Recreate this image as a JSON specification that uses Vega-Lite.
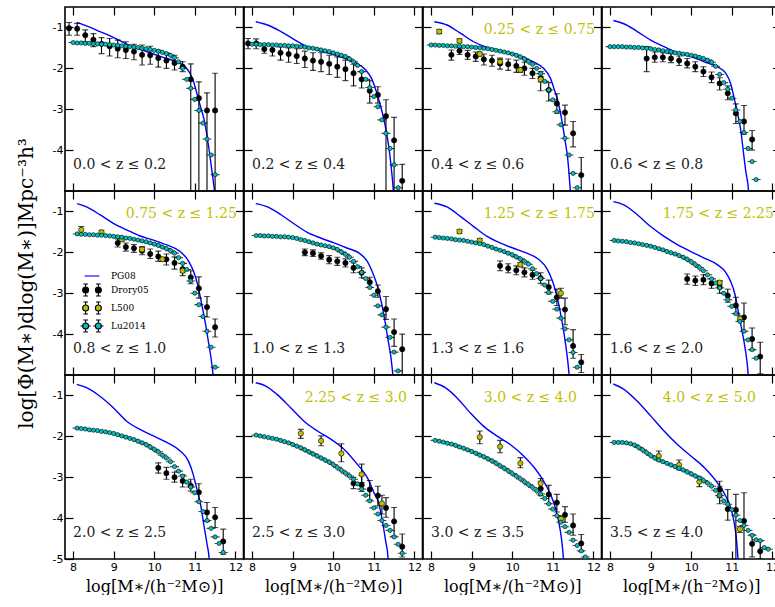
{
"$schema":"https://vega.github.io/schema/vega-lite/v6.json",
"padding":{"left":15,"top":5,"right":0,"bottom":0},
"config":{"font":"DejaVu Sans","view":{"stroke":"black","strokeWidth":1.6},
"axis":{"grid":false,"domain":false,"tickColor":"black","tickWidth":1.2,"tickSize":-8,"labelFont":"DejaVu Sans","labelFontSize":11,"labelColor":"black","labelPadding":10,"labelFlush":false,"labelOverlap":false,"labelBound":false,"titleFont":"DejaVu Serif","titleFontWeight":"normal","titleColor":"black","titleLimit":1000}},
"datasets":{
"pg":[
{"p":1,"x":8.09,"y":-0.875},{"p":1,"x":8.33,"y":-0.96},{"p":1,"x":8.66,"y":-1.1},{"p":1,"x":8.99,"y":-1.24},{"p":1,"x":9.32,"y":-1.41},{"p":1,"x":9.65,"y":-1.53},{"p":1,"x":9.98,"y":-1.65},{"p":1,"x":10.31,"y":-1.76},{"p":1,"x":10.55,"y":-1.84},{"p":1,"x":10.76,"y":-1.96},{"p":1,"x":10.88,"y":-2.12},{"p":1,"x":10.97,"y":-2.33},{"p":1,"x":11.05,"y":-2.61},{"p":1,"x":11.13,"y":-2.9},{"p":1,"x":11.23,"y":-3.26},{"p":1,"x":11.31,"y":-3.71},{"p":1,"x":11.37,"y":-4.12},{"p":1,"x":11.43,"y":-4.57},{"p":1,"x":11.5,"y":-5.1},
{"p":2,"x":8.09,"y":-0.86},{"p":2,"x":8.38,"y":-0.94},{"p":2,"x":8.71,"y":-1.1},{"p":2,"x":9.03,"y":-1.29},{"p":2,"x":9.32,"y":-1.45},{"p":2,"x":9.61,"y":-1.55},{"p":2,"x":10.02,"y":-1.67},{"p":2,"x":10.35,"y":-1.78},{"p":2,"x":10.59,"y":-1.88},{"p":2,"x":10.8,"y":-2.04},{"p":2,"x":10.94,"y":-2.24},{"p":2,"x":11.05,"y":-2.53},{"p":2,"x":11.15,"y":-2.86},{"p":2,"x":11.25,"y":-3.26},{"p":2,"x":11.33,"y":-3.67},{"p":2,"x":11.39,"y":-4.08},{"p":2,"x":11.46,"y":-4.73},{"p":2,"x":11.49,"y":-5.1},
{"p":3,"x":8.08,"y":-0.86},{"p":3,"x":8.39,"y":-0.94},{"p":3,"x":8.72,"y":-1.14},{"p":3,"x":9.05,"y":-1.35},{"p":3,"x":9.38,"y":-1.49},{"p":3,"x":9.79,"y":-1.59},{"p":3,"x":10.2,"y":-1.7},{"p":3,"x":10.52,"y":-1.84},{"p":3,"x":10.77,"y":-2.0},{"p":3,"x":10.94,"y":-2.24},{"p":3,"x":11.04,"y":-2.53},{"p":3,"x":11.14,"y":-2.86},{"p":3,"x":11.22,"y":-3.26},{"p":3,"x":11.3,"y":-3.75},{"p":3,"x":11.37,"y":-4.24},{"p":3,"x":11.43,"y":-4.97},{"p":3,"x":11.44,"y":-5.1},
{"p":4,"x":8.08,"y":-0.83},{"p":4,"x":8.34,"y":-0.91},{"p":4,"x":8.67,"y":-1.1},{"p":4,"x":9.0,"y":-1.31},{"p":4,"x":9.33,"y":-1.47},{"p":4,"x":9.66,"y":-1.62},{"p":4,"x":9.99,"y":-1.71},{"p":4,"x":10.32,"y":-1.84},{"p":4,"x":10.64,"y":-1.96},{"p":4,"x":10.85,"y":-2.12},{"p":4,"x":10.97,"y":-2.37},{"p":4,"x":11.05,"y":-2.69},{"p":4,"x":11.14,"y":-3.1},{"p":4,"x":11.22,"y":-3.51},{"p":4,"x":11.28,"y":-4.0},{"p":4,"x":11.34,"y":-4.49},{"p":4,"x":11.41,"y":-4.97},{"p":4,"x":11.42,"y":-5.1},
{"p":5,"x":8.1,"y":-0.81},{"p":5,"x":8.33,"y":-0.89},{"p":5,"x":8.66,"y":-1.08},{"p":5,"x":8.99,"y":-1.29},{"p":5,"x":9.32,"y":-1.45},{"p":5,"x":9.65,"y":-1.6},{"p":5,"x":9.98,"y":-1.7},{"p":5,"x":10.31,"y":-1.82},{"p":5,"x":10.64,"y":-1.98},{"p":5,"x":10.85,"y":-2.22},{"p":5,"x":10.97,"y":-2.47},{"p":5,"x":11.07,"y":-2.79},{"p":5,"x":11.18,"y":-3.32},{"p":5,"x":11.26,"y":-3.73},{"p":5,"x":11.34,"y":-4.22},{"p":5,"x":11.4,"y":-4.59},{"p":5,"x":11.45,"y":-5.0},{"p":5,"x":11.46,"y":-5.1},
{"p":6,"x":8.09,"y":-0.81},{"p":6,"x":8.38,"y":-0.89},{"p":6,"x":8.71,"y":-1.08},{"p":6,"x":9.03,"y":-1.3},{"p":6,"x":9.36,"y":-1.51},{"p":6,"x":9.69,"y":-1.65},{"p":6,"x":10.02,"y":-1.77},{"p":6,"x":10.35,"y":-1.9},{"p":6,"x":10.64,"y":-2.02},{"p":6,"x":10.84,"y":-2.22},{"p":6,"x":10.96,"y":-2.47},{"p":6,"x":11.09,"y":-2.83},{"p":6,"x":11.19,"y":-3.24},{"p":6,"x":11.27,"y":-3.65},{"p":6,"x":11.35,"y":-4.14},{"p":6,"x":11.42,"y":-4.55},{"p":6,"x":11.47,"y":-5.0},{"p":6,"x":11.48,"y":-5.1},
{"p":7,"x":8.08,"y":-0.8},{"p":7,"x":8.39,"y":-0.89},{"p":7,"x":8.72,"y":-1.12},{"p":7,"x":9.05,"y":-1.37},{"p":7,"x":9.38,"y":-1.61},{"p":7,"x":9.7,"y":-1.77},{"p":7,"x":10.03,"y":-1.9},{"p":7,"x":10.36,"y":-2.02},{"p":7,"x":10.65,"y":-2.17},{"p":7,"x":10.85,"y":-2.39},{"p":7,"x":10.98,"y":-2.67},{"p":7,"x":11.06,"y":-2.92},{"p":7,"x":11.14,"y":-3.24},{"p":7,"x":11.22,"y":-3.65},{"p":7,"x":11.3,"y":-4.14},{"p":7,"x":11.39,"y":-4.87},{"p":7,"x":11.41,"y":-5.1},
{"p":8,"x":8.08,"y":-0.76},{"p":8,"x":8.34,"y":-0.84},{"p":8,"x":8.67,"y":-1.08},{"p":8,"x":9.0,"y":-1.37},{"p":8,"x":9.33,"y":-1.61},{"p":8,"x":9.66,"y":-1.81},{"p":8,"x":9.99,"y":-1.98},{"p":8,"x":10.32,"y":-2.14},{"p":8,"x":10.64,"y":-2.3},{"p":8,"x":10.85,"y":-2.49},{"p":8,"x":10.97,"y":-2.71},{"p":8,"x":11.07,"y":-3.0},{"p":8,"x":11.15,"y":-3.4},{"p":8,"x":11.23,"y":-3.81},{"p":8,"x":11.32,"y":-4.3},{"p":8,"x":11.4,"y":-4.95},{"p":8,"x":11.41,"y":-5.1},
{"p":9,"x":8.09,"y":-0.73},{"p":9,"x":8.33,"y":-0.81},{"p":9,"x":8.66,"y":-1.02},{"p":9,"x":8.99,"y":-1.3},{"p":9,"x":9.32,"y":-1.63},{"p":9,"x":9.65,"y":-1.83},{"p":9,"x":9.98,"y":-1.99},{"p":9,"x":10.31,"y":-2.15},{"p":9,"x":10.64,"y":-2.36},{"p":9,"x":10.84,"y":-2.6},{"p":9,"x":10.96,"y":-2.93},{"p":9,"x":11.04,"y":-3.25},{"p":9,"x":11.14,"y":-3.66},{"p":9,"x":11.22,"y":-4.15},{"p":9,"x":11.3,"y":-4.63},{"p":9,"x":11.35,"y":-4.96},{"p":9,"x":11.36,"y":-5.1},
{"p":10,"x":8.09,"y":-0.69},{"p":10,"x":8.34,"y":-0.77},{"p":10,"x":8.62,"y":-0.98},{"p":10,"x":8.95,"y":-1.3},{"p":10,"x":9.28,"y":-1.63},{"p":10,"x":9.61,"y":-1.87},{"p":10,"x":9.94,"y":-2.07},{"p":10,"x":10.27,"y":-2.32},{"p":10,"x":10.59,"y":-2.68},{"p":10,"x":10.84,"y":-3.01},{"p":10,"x":11.0,"y":-3.37},{"p":10,"x":11.13,"y":-3.66},{"p":10,"x":11.21,"y":-4.07},{"p":10,"x":11.29,"y":-4.55},{"p":10,"x":11.35,"y":-4.96},{"p":10,"x":11.36,"y":-5.1},
{"p":11,"x":8.08,"y":-0.69},{"p":11,"x":8.35,"y":-0.81},{"p":11,"x":8.64,"y":-1.06},{"p":11,"x":8.96,"y":-1.42},{"p":11,"x":9.29,"y":-1.75},{"p":11,"x":9.62,"y":-1.99},{"p":11,"x":9.95,"y":-2.2},{"p":11,"x":10.28,"y":-2.48},{"p":11,"x":10.57,"y":-2.8},{"p":11,"x":10.77,"y":-3.09},{"p":11,"x":10.94,"y":-3.41},{"p":11,"x":11.06,"y":-3.74},{"p":11,"x":11.14,"y":-4.07},{"p":11,"x":11.22,"y":-4.55},{"p":11,"x":11.26,"y":-4.96},{"p":11,"x":11.27,"y":-5.1},
{"p":12,"x":8.08,"y":-0.72},{"p":12,"x":8.34,"y":-0.85},{"p":12,"x":8.67,"y":-1.14},{"p":12,"x":9.0,"y":-1.5},{"p":12,"x":9.33,"y":-1.87},{"p":12,"x":9.66,"y":-2.2},{"p":12,"x":9.99,"y":-2.48},{"p":12,"x":10.32,"y":-2.76},{"p":12,"x":10.64,"y":-3.13},{"p":12,"x":10.85,"y":-3.46},{"p":12,"x":10.97,"y":-3.74},{"p":12,"x":11.05,"y":-4.07},{"p":12,"x":11.11,"y":-4.47},{"p":12,"x":11.15,"y":-4.96},{"p":12,"x":11.16,"y":-5.1}
],
"eb":[
{"p":1,"s":"Drory05","x":7.9,"y":-1.02,"lo":-1.19,"hi":-0.88},{"p":1,"s":"Drory05","x":8.1,"y":-1.03,"lo":-1.19,"hi":-0.9},{"p":1,"s":"Drory05","x":8.3,"y":-1.19,"lo":-1.35,"hi":-1.06},{"p":1,"s":"Drory05","x":8.5,"y":-1.3,"lo":-1.47,"hi":-1.15},{"p":1,"s":"Drory05","x":8.7,"y":-1.4,"lo":-1.64,"hi":-1.25},{"p":1,"s":"Drory05","x":8.9,"y":-1.46,"lo":-1.7,"hi":-1.27},{"p":1,"s":"Drory05","x":9.1,"y":-1.52,"lo":-1.74,"hi":-1.31},{"p":1,"s":"Drory05","x":9.3,"y":-1.55,"lo":-1.76,"hi":-1.35},{"p":1,"s":"Drory05","x":9.5,"y":-1.59,"lo":-1.79,"hi":-1.41},{"p":1,"s":"Drory05","x":9.7,"y":-1.67,"lo":-1.92,"hi":-1.43},{"p":1,"s":"Drory05","x":9.9,"y":-1.68,"lo":-1.9,"hi":-1.46},{"p":1,"s":"Drory05","x":10.1,"y":-1.75,"lo":-1.97,"hi":-1.55},{"p":1,"s":"Drory05","x":10.3,"y":-1.81,"lo":-2.0,"hi":-1.62},{"p":1,"s":"Drory05","x":10.5,"y":-1.87,"lo":-2.04,"hi":-1.68},{"p":1,"s":"Drory05","x":10.7,"y":-1.96,"lo":-2.08,"hi":-1.84},{"p":1,"s":"Drory05","x":10.9,"y":-2.27,"lo":-6,"hi":-1.89},{"p":1,"s":"Drory05","x":11.1,"y":-2.73,"lo":-6,"hi":-2.33},{"p":1,"s":"Drory05","x":11.3,"y":-3.03,"lo":-6,"hi":-2.6},{"p":1,"s":"Drory05","x":11.5,"y":-3.03,"lo":-6,"hi":-2.12},
{"p":2,"s":"Drory05","x":7.9,"y":-1.39,"lo":-1.52,"hi":-1.27},{"p":2,"s":"Drory05","x":8.1,"y":-1.39,"lo":-1.52,"hi":-1.28},{"p":2,"s":"Drory05","x":8.3,"y":-1.53,"lo":-1.63,"hi":-1.43},{"p":2,"s":"Drory05","x":8.5,"y":-1.55,"lo":-1.7,"hi":-1.42},{"p":2,"s":"Drory05","x":8.7,"y":-1.62,"lo":-1.8,"hi":-1.48},{"p":2,"s":"Drory05","x":8.9,"y":-1.65,"lo":-1.85,"hi":-1.5},{"p":2,"s":"Drory05","x":9.1,"y":-1.7,"lo":-1.88,"hi":-1.52},{"p":2,"s":"Drory05","x":9.3,"y":-1.76,"lo":-1.98,"hi":-1.58},{"p":2,"s":"Drory05","x":9.5,"y":-1.81,"lo":-2.05,"hi":-1.62},{"p":2,"s":"Drory05","x":9.7,"y":-1.84,"lo":-2.08,"hi":-1.62},{"p":2,"s":"Drory05","x":9.9,"y":-1.89,"lo":-2.15,"hi":-1.68},{"p":2,"s":"Drory05","x":10.1,"y":-1.96,"lo":-2.22,"hi":-1.72},{"p":2,"s":"Drory05","x":10.3,"y":-2.02,"lo":-2.3,"hi":-1.8},{"p":2,"s":"Drory05","x":10.5,"y":-2.12,"lo":-2.43,"hi":-1.9},{"p":2,"s":"Drory05","x":10.7,"y":-2.27,"lo":-2.48,"hi":-2.08},{"p":2,"s":"Drory05","x":10.9,"y":-2.55,"lo":-2.85,"hi":-2.3},{"p":2,"s":"Drory05","x":11.1,"y":-2.65,"lo":-2.85,"hi":-2.45},{"p":2,"s":"Drory05","x":11.3,"y":-3.17,"lo":-6,"hi":-2.77},{"p":2,"s":"Drory05","x":11.5,"y":-3.76,"lo":-6,"hi":-3.2},{"p":2,"s":"Drory05","x":11.7,"y":-4.75,"lo":-6,"hi":-4.35},
{"p":3,"s":"Drory05","x":8.5,"y":-1.67,"lo":-1.8,"hi":-1.55},{"p":3,"s":"Drory05","x":8.7,"y":-1.57,"lo":-1.66,"hi":-1.48},{"p":3,"s":"Drory05","x":8.9,"y":-1.67,"lo":-1.78,"hi":-1.56},{"p":3,"s":"Drory05","x":9.1,"y":-1.71,"lo":-1.83,"hi":-1.6},{"p":3,"s":"Drory05","x":9.3,"y":-1.78,"lo":-1.92,"hi":-1.65},{"p":3,"s":"Drory05","x":9.5,"y":-1.81,"lo":-1.95,"hi":-1.68},{"p":3,"s":"Drory05","x":9.7,"y":-1.88,"lo":-2.02,"hi":-1.75},{"p":3,"s":"Drory05","x":9.9,"y":-1.9,"lo":-2.05,"hi":-1.77},{"p":3,"s":"Drory05","x":10.1,"y":-1.94,"lo":-2.1,"hi":-1.8},{"p":3,"s":"Drory05","x":10.3,"y":-2.0,"lo":-2.17,"hi":-1.85},{"p":3,"s":"Drory05","x":10.5,"y":-2.12,"lo":-2.25,"hi":-2.0},{"p":3,"s":"Drory05","x":10.7,"y":-2.24,"lo":-2.55,"hi":-2.08},{"p":3,"s":"Drory05","x":10.9,"y":-2.53,"lo":-2.8,"hi":-2.35},{"p":3,"s":"Drory05","x":11.1,"y":-2.86,"lo":-3.1,"hi":-2.62},{"p":3,"s":"Drory05","x":11.3,"y":-3.08,"lo":-3.39,"hi":-2.9},{"p":3,"s":"Drory05","x":11.5,"y":-3.59,"lo":-3.92,"hi":-3.3},{"p":3,"s":"Drory05","x":11.7,"y":-4.61,"lo":-5.03,"hi":-4.18},
{"p":3,"s":"L500","x":8.2,"y":-1.1,"lo":-1.15,"hi":-1.05},{"p":3,"s":"L500","x":8.7,"y":-1.33,"lo":-1.38,"hi":-1.28},{"p":3,"s":"L500","x":9.2,"y":-1.65,"lo":-1.7,"hi":-1.6},{"p":3,"s":"L500","x":9.7,"y":-1.84,"lo":-1.9,"hi":-1.78},{"p":3,"s":"L500","x":10.2,"y":-2.04,"lo":-2.1,"hi":-1.98},{"p":3,"s":"L500","x":10.7,"y":-2.27,"lo":-2.33,"hi":-2.21},
{"p":4,"s":"Drory05","x":8.9,"y":-1.76,"lo":-2.08,"hi":-1.47},{"p":4,"s":"Drory05","x":9.1,"y":-1.73,"lo":-1.85,"hi":-1.6},{"p":4,"s":"Drory05","x":9.3,"y":-1.73,"lo":-1.84,"hi":-1.62},{"p":4,"s":"Drory05","x":9.5,"y":-1.76,"lo":-1.86,"hi":-1.64},{"p":4,"s":"Drory05","x":9.7,"y":-1.81,"lo":-1.93,"hi":-1.7},{"p":4,"s":"Drory05","x":9.9,"y":-1.88,"lo":-1.99,"hi":-1.76},{"p":4,"s":"Drory05","x":10.1,"y":-1.96,"lo":-2.08,"hi":-1.84},{"p":4,"s":"Drory05","x":10.3,"y":-2.08,"lo":-2.2,"hi":-1.96},{"p":4,"s":"Drory05","x":10.5,"y":-2.22,"lo":-2.35,"hi":-2.09},{"p":4,"s":"Drory05","x":10.7,"y":-2.37,"lo":-2.53,"hi":-2.23},{"p":4,"s":"Drory05","x":10.9,"y":-2.61,"lo":-2.77,"hi":-2.43},{"p":4,"s":"Drory05","x":11.1,"y":-3.1,"lo":-3.35,"hi":-2.87},{"p":4,"s":"Drory05","x":11.3,"y":-3.3,"lo":-3.61,"hi":-2.91},{"p":4,"s":"Drory05","x":11.5,"y":-3.74,"lo":-4.0,"hi":-3.52},
{"p":5,"s":"Drory05","x":9.1,"y":-1.77,"lo":-1.87,"hi":-1.67},{"p":5,"s":"Drory05","x":9.3,"y":-1.87,"lo":-1.97,"hi":-1.77},{"p":5,"s":"Drory05","x":9.5,"y":-1.9,"lo":-2.0,"hi":-1.81},{"p":5,"s":"Drory05","x":9.7,"y":-1.96,"lo":-2.06,"hi":-1.86},{"p":5,"s":"Drory05","x":9.9,"y":-2.04,"lo":-2.15,"hi":-1.92},{"p":5,"s":"Drory05","x":10.1,"y":-2.1,"lo":-2.22,"hi":-1.97},{"p":5,"s":"Drory05","x":10.3,"y":-2.17,"lo":-2.31,"hi":-2.04},{"p":5,"s":"Drory05","x":10.5,"y":-2.26,"lo":-2.41,"hi":-2.11},{"p":5,"s":"Drory05","x":10.7,"y":-2.41,"lo":-2.57,"hi":-2.27},{"p":5,"s":"Drory05","x":10.9,"y":-2.61,"lo":-2.77,"hi":-2.45},{"p":5,"s":"Drory05","x":11.1,"y":-2.88,"lo":-3.12,"hi":-2.6},{"p":5,"s":"Drory05","x":11.3,"y":-3.34,"lo":-3.58,"hi":-3.08},{"p":5,"s":"Drory05","x":11.5,"y":-3.83,"lo":-4.07,"hi":-3.63},
{"p":5,"s":"L500","x":8.2,"y":-1.45,"lo":-1.55,"hi":-1.37},{"p":5,"s":"L500","x":8.7,"y":-1.51,"lo":-1.56,"hi":-1.46},{"p":5,"s":"L500","x":9.2,"y":-1.68,"lo":-1.73,"hi":-1.63},{"p":5,"s":"L500","x":9.7,"y":-1.93,"lo":-1.98,"hi":-1.88},{"p":5,"s":"L500","x":10.2,"y":-2.17,"lo":-2.22,"hi":-2.12},{"p":5,"s":"L500","x":10.7,"y":-2.45,"lo":-2.5,"hi":-2.4},
{"p":6,"s":"Drory05","x":9.3,"y":-2.0,"lo":-2.08,"hi":-1.92},{"p":6,"s":"Drory05","x":9.5,"y":-2.02,"lo":-2.1,"hi":-1.94},{"p":6,"s":"Drory05","x":9.7,"y":-2.09,"lo":-2.17,"hi":-2.01},{"p":6,"s":"Drory05","x":9.9,"y":-2.18,"lo":-2.28,"hi":-2.08},{"p":6,"s":"Drory05","x":10.1,"y":-2.22,"lo":-2.32,"hi":-2.12},{"p":6,"s":"Drory05","x":10.3,"y":-2.26,"lo":-2.36,"hi":-2.16},{"p":6,"s":"Drory05","x":10.5,"y":-2.38,"lo":-2.5,"hi":-2.26},{"p":6,"s":"Drory05","x":10.7,"y":-2.5,"lo":-2.62,"hi":-2.38},{"p":6,"s":"Drory05","x":10.9,"y":-2.73,"lo":-2.85,"hi":-2.61},{"p":6,"s":"Drory05","x":11.1,"y":-2.95,"lo":-3.1,"hi":-2.8},{"p":6,"s":"Drory05","x":11.3,"y":-3.39,"lo":-3.64,"hi":-3.08},{"p":6,"s":"Drory05","x":11.5,"y":-3.95,"lo":-4.3,"hi":-3.63},{"p":6,"s":"Drory05","x":11.7,"y":-4.37,"lo":-5.0,"hi":-4.0},
{"p":7,"s":"Drory05","x":9.7,"y":-2.33,"lo":-2.45,"hi":-2.21},{"p":7,"s":"Drory05","x":9.9,"y":-2.39,"lo":-2.5,"hi":-2.28},{"p":7,"s":"Drory05","x":10.1,"y":-2.44,"lo":-2.55,"hi":-2.33},{"p":7,"s":"Drory05","x":10.3,"y":-2.49,"lo":-2.6,"hi":-2.38},{"p":7,"s":"Drory05","x":10.5,"y":-2.55,"lo":-2.66,"hi":-2.44},{"p":7,"s":"Drory05","x":10.7,"y":-2.63,"lo":-2.76,"hi":-2.5},{"p":7,"s":"Drory05","x":10.9,"y":-2.85,"lo":-3.02,"hi":-2.68},{"p":7,"s":"Drory05","x":11.1,"y":-3.1,"lo":-3.3,"hi":-2.9},{"p":7,"s":"Drory05","x":11.3,"y":-3.4,"lo":-3.77,"hi":-3.12},{"p":7,"s":"Drory05","x":11.5,"y":-4.29,"lo":-4.59,"hi":-3.89},{"p":7,"s":"Drory05","x":11.7,"y":-4.69,"lo":-4.94,"hi":-4.5},
{"p":7,"s":"L500","x":8.7,"y":-1.49,"lo":-1.54,"hi":-1.44},{"p":7,"s":"L500","x":9.2,"y":-1.71,"lo":-1.76,"hi":-1.66},{"p":7,"s":"L500","x":10.2,"y":-2.3,"lo":-2.35,"hi":-2.25},{"p":7,"s":"L500","x":11.2,"y":-3.0,"lo":-3.12,"hi":-2.88},
{"p":8,"s":"Drory05","x":9.9,"y":-2.65,"lo":-2.78,"hi":-2.53},{"p":8,"s":"Drory05","x":10.1,"y":-2.69,"lo":-2.81,"hi":-2.58},{"p":8,"s":"Drory05","x":10.3,"y":-2.67,"lo":-2.79,"hi":-2.55},{"p":8,"s":"Drory05","x":10.5,"y":-2.76,"lo":-2.88,"hi":-2.64},{"p":8,"s":"Drory05","x":10.7,"y":-2.85,"lo":-3.0,"hi":-2.72},{"p":8,"s":"Drory05","x":10.9,"y":-3.06,"lo":-3.22,"hi":-2.9},{"p":8,"s":"Drory05","x":11.1,"y":-3.3,"lo":-3.5,"hi":-3.1},{"p":8,"s":"Drory05","x":11.3,"y":-3.59,"lo":-3.94,"hi":-3.24},{"p":8,"s":"Drory05","x":11.5,"y":-4.12,"lo":-4.39,"hi":-3.85},{"p":8,"s":"Drory05","x":11.7,"y":-4.55,"lo":-4.97,"hi":-4.2},
{"p":8,"s":"L500","x":10.7,"y":-2.74,"lo":-2.79,"hi":-2.69},{"p":8,"s":"L500","x":11.2,"y":-3.62,"lo":-3.68,"hi":-3.56},
{"p":9,"s":"Drory05","x":10.1,"y":-2.77,"lo":-2.9,"hi":-2.65},{"p":9,"s":"Drory05","x":10.3,"y":-2.9,"lo":-3.05,"hi":-2.76},{"p":9,"s":"Drory05","x":10.5,"y":-3.0,"lo":-3.12,"hi":-2.88},{"p":9,"s":"Drory05","x":10.7,"y":-3.09,"lo":-3.24,"hi":-2.94},{"p":9,"s":"Drory05","x":10.9,"y":-3.21,"lo":-3.34,"hi":-3.05},{"p":9,"s":"Drory05","x":11.1,"y":-3.37,"lo":-3.58,"hi":-3.16},{"p":9,"s":"Drory05","x":11.3,"y":-3.86,"lo":-4.08,"hi":-3.62},{"p":9,"s":"Drory05","x":11.5,"y":-3.98,"lo":-4.23,"hi":-3.74},{"p":9,"s":"Drory05","x":11.7,"y":-4.57,"lo":-4.88,"hi":-4.27},
{"p":10,"s":"Drory05","x":10.5,"y":-3.15,"lo":-3.28,"hi":-3.0},{"p":10,"s":"Drory05","x":10.7,"y":-3.19,"lo":-3.35,"hi":-2.95},{"p":10,"s":"Drory05","x":10.9,"y":-3.3,"lo":-3.55,"hi":-3.08},{"p":10,"s":"Drory05","x":11.1,"y":-3.45,"lo":-3.7,"hi":-3.22},{"p":10,"s":"Drory05","x":11.3,"y":-3.75,"lo":-3.98,"hi":-3.5},{"p":10,"s":"Drory05","x":11.5,"y":-4.08,"lo":-4.44,"hi":-3.74},{"p":10,"s":"Drory05","x":11.7,"y":-4.7,"lo":-4.95,"hi":-4.39},
{"p":10,"s":"L500","x":9.2,"y":-1.93,"lo":-2.05,"hi":-1.83},{"p":10,"s":"L500","x":9.7,"y":-2.11,"lo":-2.23,"hi":-1.99},{"p":10,"s":"L500","x":10.2,"y":-2.42,"lo":-2.62,"hi":-2.18},{"p":10,"s":"L500","x":10.7,"y":-2.93,"lo":-3.13,"hi":-2.68},{"p":10,"s":"L500","x":11.2,"y":-3.64,"lo":-3.9,"hi":-3.44},
{"p":11,"s":"Drory05","x":10.7,"y":-3.28,"lo":-3.45,"hi":-3.1},{"p":11,"s":"Drory05","x":10.9,"y":-3.42,"lo":-3.65,"hi":-3.2},{"p":11,"s":"Drory05","x":11.1,"y":-3.62,"lo":-3.85,"hi":-3.42},{"p":11,"s":"Drory05","x":11.3,"y":-3.92,"lo":-4.1,"hi":-3.72},{"p":11,"s":"Drory05","x":11.5,"y":-4.18,"lo":-4.42,"hi":-3.9},{"p":11,"s":"Drory05","x":11.7,"y":-4.62,"lo":-4.82,"hi":-4.4},
{"p":11,"s":"L500","x":9.2,"y":-2.02,"lo":-2.18,"hi":-1.87},{"p":11,"s":"L500","x":9.7,"y":-2.25,"lo":-2.4,"hi":-2.1},{"p":11,"s":"L500","x":10.2,"y":-2.66,"lo":-2.77,"hi":-2.52},{"p":11,"s":"L500","x":10.7,"y":-3.15,"lo":-3.27,"hi":-3.03},{"p":11,"s":"L500","x":11.2,"y":-4.02,"lo":-4.1,"hi":-3.95},
{"p":12,"s":"Drory05","x":10.7,"y":-3.3,"lo":-3.5,"hi":-3.1},{"p":12,"s":"Drory05","x":10.9,"y":-3.78,"lo":-4.05,"hi":-3.3},{"p":12,"s":"Drory05","x":11.1,"y":-3.8,"lo":-6,"hi":-3.42},{"p":12,"s":"Drory05","x":11.3,"y":-4.07,"lo":-6,"hi":-3.38},{"p":12,"s":"Drory05","x":11.5,"y":-4.63,"lo":-4.95,"hi":-4.4},{"p":12,"s":"Drory05","x":11.7,"y":-4.81,"lo":-5.0,"hi":-4.56},
{"p":12,"s":"L500","x":9.2,"y":-2.48,"lo":-2.6,"hi":-2.36},{"p":12,"s":"L500","x":9.7,"y":-2.7,"lo":-2.82,"hi":-2.58},{"p":12,"s":"L500","x":10.2,"y":-3.11,"lo":-3.23,"hi":-2.99},{"p":12,"s":"L500","x":10.7,"y":-3.43,"lo":-3.65,"hi":-3.22},{"p":12,"s":"L500","x":11.2,"y":-4.27,"lo":-4.35,"hi":-4.2}
],
"lu":[
{"p":1,"x":8.0,"y":-1.37},{"p":1,"x":8.1,"y":-1.38},{"p":1,"x":8.2,"y":-1.38},{"p":1,"x":8.3,"y":-1.39},{"p":1,"x":8.4,"y":-1.39},{"p":1,"x":8.5,"y":-1.4},{"p":1,"x":8.6,"y":-1.4},{"p":1,"x":8.7,"y":-1.41},{"p":1,"x":8.8,"y":-1.41},{"p":1,"x":8.9,"y":-1.42},{"p":1,"x":9.0,"y":-1.43},{"p":1,"x":9.1,"y":-1.44},{"p":1,"x":9.2,"y":-1.45},{"p":1,"x":9.3,"y":-1.46},{"p":1,"x":9.4,"y":-1.47},{"p":1,"x":9.5,"y":-1.48},{"p":1,"x":9.6,"y":-1.49},{"p":1,"x":9.7,"y":-1.51},{"p":1,"x":9.8,"y":-1.52},{"p":1,"x":9.9,"y":-1.54},{"p":1,"x":10.0,"y":-1.56},{"p":1,"x":10.1,"y":-1.58},{"p":1,"x":10.2,"y":-1.61},{"p":1,"x":10.3,"y":-1.64},{"p":1,"x":10.4,"y":-1.68},{"p":1,"x":10.5,"y":-1.74},{"p":1,"x":10.6,"y":-1.84},{"p":1,"x":10.7,"y":-2.0},{"p":1,"x":10.8,"y":-2.27},{"p":1,"x":10.9,"y":-2.49},{"p":1,"x":11.0,"y":-2.76},{"p":1,"x":11.1,"y":-3.03},{"p":1,"x":11.2,"y":-3.34},{"p":1,"x":11.3,"y":-3.73},{"p":1,"x":11.4,"y":-4.12},{"p":1,"x":11.5,"y":-4.6},
{"p":2,"x":8.0,"y":-1.41},{"p":2,"x":8.1,"y":-1.41},{"p":2,"x":8.2,"y":-1.42},{"p":2,"x":8.3,"y":-1.42},{"p":2,"x":8.4,"y":-1.42},{"p":2,"x":8.5,"y":-1.43},{"p":2,"x":8.6,"y":-1.43},{"p":2,"x":8.7,"y":-1.44},{"p":2,"x":8.8,"y":-1.44},{"p":2,"x":8.9,"y":-1.45},{"p":2,"x":9.0,"y":-1.45},{"p":2,"x":9.1,"y":-1.46},{"p":2,"x":9.2,"y":-1.47},{"p":2,"x":9.3,"y":-1.48},{"p":2,"x":9.4,"y":-1.5},{"p":2,"x":9.5,"y":-1.51},{"p":2,"x":9.6,"y":-1.53},{"p":2,"x":9.7,"y":-1.55},{"p":2,"x":9.8,"y":-1.57},{"p":2,"x":9.9,"y":-1.59},{"p":2,"x":10.0,"y":-1.62},{"p":2,"x":10.1,"y":-1.65},{"p":2,"x":10.2,"y":-1.68},{"p":2,"x":10.3,"y":-1.71},{"p":2,"x":10.4,"y":-1.77},{"p":2,"x":10.5,"y":-1.84},{"p":2,"x":10.6,"y":-1.93},{"p":2,"x":10.7,"y":-2.08},{"p":2,"x":10.8,"y":-2.27},{"p":2,"x":10.9,"y":-2.47},{"p":2,"x":11.0,"y":-2.69},{"p":2,"x":11.1,"y":-2.94},{"p":2,"x":11.2,"y":-3.26},{"p":2,"x":11.3,"y":-3.59},{"p":2,"x":11.4,"y":-3.96},{"p":2,"x":11.5,"y":-4.36},{"p":2,"x":11.6,"y":-4.92},
{"p":3,"x":8.0,"y":-1.43},{"p":3,"x":8.1,"y":-1.43},{"p":3,"x":8.2,"y":-1.44},{"p":3,"x":8.3,"y":-1.44},{"p":3,"x":8.4,"y":-1.45},{"p":3,"x":8.5,"y":-1.45},{"p":3,"x":8.6,"y":-1.46},{"p":3,"x":8.7,"y":-1.46},{"p":3,"x":8.8,"y":-1.47},{"p":3,"x":8.9,"y":-1.47},{"p":3,"x":9.0,"y":-1.48},{"p":3,"x":9.1,"y":-1.49},{"p":3,"x":9.2,"y":-1.5},{"p":3,"x":9.3,"y":-1.51},{"p":3,"x":9.4,"y":-1.52},{"p":3,"x":9.5,"y":-1.54},{"p":3,"x":9.6,"y":-1.56},{"p":3,"x":9.7,"y":-1.58},{"p":3,"x":9.8,"y":-1.6},{"p":3,"x":9.9,"y":-1.62},{"p":3,"x":10.0,"y":-1.65},{"p":3,"x":10.1,"y":-1.68},{"p":3,"x":10.2,"y":-1.72},{"p":3,"x":10.3,"y":-1.77},{"p":3,"x":10.4,"y":-1.83},{"p":3,"x":10.5,"y":-1.9},{"p":3,"x":10.6,"y":-2.0},{"p":3,"x":10.7,"y":-2.13},{"p":3,"x":10.8,"y":-2.32},{"p":3,"x":10.9,"y":-2.53},{"p":3,"x":11.0,"y":-2.77},{"p":3,"x":11.1,"y":-3.06},{"p":3,"x":11.2,"y":-3.38},{"p":3,"x":11.3,"y":-3.71},{"p":3,"x":11.4,"y":-4.12},{"p":3,"x":11.5,"y":-4.57},{"p":3,"x":11.6,"y":-4.92},
{"p":4,"x":8.0,"y":-1.47},{"p":4,"x":8.1,"y":-1.47},{"p":4,"x":8.2,"y":-1.47},{"p":4,"x":8.3,"y":-1.47},{"p":4,"x":8.4,"y":-1.48},{"p":4,"x":8.5,"y":-1.48},{"p":4,"x":8.6,"y":-1.49},{"p":4,"x":8.7,"y":-1.49},{"p":4,"x":8.8,"y":-1.5},{"p":4,"x":8.9,"y":-1.51},{"p":4,"x":9.0,"y":-1.52},{"p":4,"x":9.1,"y":-1.54},{"p":4,"x":9.2,"y":-1.55},{"p":4,"x":9.3,"y":-1.57},{"p":4,"x":9.4,"y":-1.59},{"p":4,"x":9.5,"y":-1.6},{"p":4,"x":9.6,"y":-1.62},{"p":4,"x":9.7,"y":-1.63},{"p":4,"x":9.8,"y":-1.65},{"p":4,"x":9.9,"y":-1.66},{"p":4,"x":10.0,"y":-1.68},{"p":4,"x":10.1,"y":-1.7},{"p":4,"x":10.2,"y":-1.73},{"p":4,"x":10.3,"y":-1.76},{"p":4,"x":10.4,"y":-1.8},{"p":4,"x":10.5,"y":-1.85},{"p":4,"x":10.6,"y":-1.95},{"p":4,"x":10.7,"y":-2.15},{"p":4,"x":10.8,"y":-2.35},{"p":4,"x":10.9,"y":-2.51},{"p":4,"x":11.0,"y":-2.73},{"p":4,"x":11.1,"y":-3.02},{"p":4,"x":11.2,"y":-3.3},{"p":4,"x":11.3,"y":-3.57},{"p":4,"x":11.4,"y":-3.96},{"p":4,"x":11.5,"y":-4.28},{"p":4,"x":11.6,"y":-4.72},
{"p":5,"x":8.1,"y":-1.55},{"p":5,"x":8.2,"y":-1.56},{"p":5,"x":8.3,"y":-1.56},{"p":5,"x":8.4,"y":-1.57},{"p":5,"x":8.5,"y":-1.57},{"p":5,"x":8.6,"y":-1.58},{"p":5,"x":8.7,"y":-1.58},{"p":5,"x":8.8,"y":-1.59},{"p":5,"x":8.9,"y":-1.6},{"p":5,"x":9.0,"y":-1.61},{"p":5,"x":9.1,"y":-1.62},{"p":5,"x":9.2,"y":-1.63},{"p":5,"x":9.3,"y":-1.65},{"p":5,"x":9.4,"y":-1.66},{"p":5,"x":9.5,"y":-1.68},{"p":5,"x":9.6,"y":-1.7},{"p":5,"x":9.7,"y":-1.72},{"p":5,"x":9.8,"y":-1.74},{"p":5,"x":9.9,"y":-1.77},{"p":5,"x":10.0,"y":-1.8},{"p":5,"x":10.1,"y":-1.83},{"p":5,"x":10.2,"y":-1.87},{"p":5,"x":10.3,"y":-1.91},{"p":5,"x":10.4,"y":-1.96},{"p":5,"x":10.5,"y":-2.02},{"p":5,"x":10.6,"y":-2.13},{"p":5,"x":10.7,"y":-2.27},{"p":5,"x":10.8,"y":-2.42},{"p":5,"x":10.9,"y":-2.7},{"p":5,"x":11.0,"y":-3.0},{"p":5,"x":11.1,"y":-3.28},{"p":5,"x":11.2,"y":-3.57},{"p":5,"x":11.3,"y":-3.93},{"p":5,"x":11.4,"y":-4.32},{"p":5,"x":11.5,"y":-4.81},
{"p":6,"x":8.1,"y":-1.59},{"p":6,"x":8.2,"y":-1.59},{"p":6,"x":8.3,"y":-1.6},{"p":6,"x":8.4,"y":-1.6},{"p":6,"x":8.5,"y":-1.61},{"p":6,"x":8.6,"y":-1.61},{"p":6,"x":8.7,"y":-1.62},{"p":6,"x":8.8,"y":-1.62},{"p":6,"x":8.9,"y":-1.63},{"p":6,"x":9.0,"y":-1.64},{"p":6,"x":9.1,"y":-1.66},{"p":6,"x":9.2,"y":-1.69},{"p":6,"x":9.3,"y":-1.71},{"p":6,"x":9.4,"y":-1.74},{"p":6,"x":9.5,"y":-1.77},{"p":6,"x":9.6,"y":-1.8},{"p":6,"x":9.7,"y":-1.82},{"p":6,"x":9.8,"y":-1.84},{"p":6,"x":9.9,"y":-1.86},{"p":6,"x":10.0,"y":-1.89},{"p":6,"x":10.1,"y":-1.93},{"p":6,"x":10.2,"y":-1.99},{"p":6,"x":10.3,"y":-2.05},{"p":6,"x":10.4,"y":-2.12},{"p":6,"x":10.5,"y":-2.22},{"p":6,"x":10.6,"y":-2.35},{"p":6,"x":10.7,"y":-2.49},{"p":6,"x":10.8,"y":-2.64},{"p":6,"x":10.9,"y":-2.86},{"p":6,"x":11.0,"y":-3.05},{"p":6,"x":11.1,"y":-3.31},{"p":6,"x":11.2,"y":-3.53},{"p":6,"x":11.3,"y":-3.83},{"p":6,"x":11.4,"y":-4.08},{"p":6,"x":11.5,"y":-4.44},{"p":6,"x":11.6,"y":-4.9},
{"p":7,"x":8.1,"y":-1.63},{"p":7,"x":8.2,"y":-1.64},{"p":7,"x":8.3,"y":-1.65},{"p":7,"x":8.4,"y":-1.66},{"p":7,"x":8.5,"y":-1.67},{"p":7,"x":8.6,"y":-1.69},{"p":7,"x":8.7,"y":-1.7},{"p":7,"x":8.8,"y":-1.71},{"p":7,"x":8.9,"y":-1.73},{"p":7,"x":9.0,"y":-1.75},{"p":7,"x":9.1,"y":-1.77},{"p":7,"x":9.2,"y":-1.79},{"p":7,"x":9.3,"y":-1.81},{"p":7,"x":9.4,"y":-1.85},{"p":7,"x":9.5,"y":-1.88},{"p":7,"x":9.6,"y":-1.92},{"p":7,"x":9.7,"y":-1.95},{"p":7,"x":9.8,"y":-1.98},{"p":7,"x":9.9,"y":-2.02},{"p":7,"x":10.0,"y":-2.06},{"p":7,"x":10.1,"y":-2.11},{"p":7,"x":10.2,"y":-2.16},{"p":7,"x":10.3,"y":-2.22},{"p":7,"x":10.4,"y":-2.29},{"p":7,"x":10.5,"y":-2.4},{"p":7,"x":10.6,"y":-2.52},{"p":7,"x":10.7,"y":-2.64},{"p":7,"x":10.8,"y":-2.8},{"p":7,"x":10.9,"y":-2.98},{"p":7,"x":11.0,"y":-3.2},{"p":7,"x":11.1,"y":-3.39},{"p":7,"x":11.2,"y":-3.61},{"p":7,"x":11.3,"y":-3.87},{"p":7,"x":11.4,"y":-4.14},{"p":7,"x":11.5,"y":-4.45},{"p":7,"x":11.6,"y":-4.81},
{"p":8,"x":8.1,"y":-1.71},{"p":8,"x":8.2,"y":-1.72},{"p":8,"x":8.3,"y":-1.73},{"p":8,"x":8.4,"y":-1.74},{"p":8,"x":8.5,"y":-1.76},{"p":8,"x":8.6,"y":-1.77},{"p":8,"x":8.7,"y":-1.79},{"p":8,"x":8.8,"y":-1.81},{"p":8,"x":8.9,"y":-1.83},{"p":8,"x":9.0,"y":-1.85},{"p":8,"x":9.1,"y":-1.88},{"p":8,"x":9.2,"y":-1.91},{"p":8,"x":9.3,"y":-1.94},{"p":8,"x":9.4,"y":-1.98},{"p":8,"x":9.5,"y":-2.01},{"p":8,"x":9.6,"y":-2.04},{"p":8,"x":9.7,"y":-2.08},{"p":8,"x":9.8,"y":-2.12},{"p":8,"x":9.9,"y":-2.17},{"p":8,"x":10.0,"y":-2.23},{"p":8,"x":10.1,"y":-2.3},{"p":8,"x":10.2,"y":-2.37},{"p":8,"x":10.3,"y":-2.45},{"p":8,"x":10.4,"y":-2.55},{"p":8,"x":10.5,"y":-2.65},{"p":8,"x":10.6,"y":-2.75},{"p":8,"x":10.7,"y":-2.87},{"p":8,"x":10.8,"y":-3.0},{"p":8,"x":10.9,"y":-3.16},{"p":8,"x":11.0,"y":-3.32},{"p":8,"x":11.1,"y":-3.5},{"p":8,"x":11.2,"y":-3.69},{"p":8,"x":11.3,"y":-3.93},{"p":8,"x":11.4,"y":-4.14},{"p":8,"x":11.5,"y":-4.38},{"p":8,"x":11.6,"y":-4.59},
{"p":9,"x":8.1,"y":-1.8},{"p":9,"x":8.2,"y":-1.81},{"p":9,"x":8.3,"y":-1.82},{"p":9,"x":8.4,"y":-1.84},{"p":9,"x":8.5,"y":-1.85},{"p":9,"x":8.6,"y":-1.86},{"p":9,"x":8.7,"y":-1.88},{"p":9,"x":8.8,"y":-1.89},{"p":9,"x":8.9,"y":-1.91},{"p":9,"x":9.0,"y":-1.93},{"p":9,"x":9.1,"y":-1.96},{"p":9,"x":9.2,"y":-1.99},{"p":9,"x":9.3,"y":-2.02},{"p":9,"x":9.4,"y":-2.05},{"p":9,"x":9.5,"y":-2.08},{"p":9,"x":9.6,"y":-2.12},{"p":9,"x":9.7,"y":-2.16},{"p":9,"x":9.8,"y":-2.2},{"p":9,"x":9.9,"y":-2.26},{"p":9,"x":10.0,"y":-2.32},{"p":9,"x":10.1,"y":-2.38},{"p":9,"x":10.2,"y":-2.46},{"p":9,"x":10.3,"y":-2.53},{"p":9,"x":10.4,"y":-2.62},{"p":9,"x":10.5,"y":-2.74},{"p":9,"x":10.6,"y":-2.85},{"p":9,"x":10.7,"y":-2.97},{"p":9,"x":10.8,"y":-3.12},{"p":9,"x":10.9,"y":-3.24},{"p":9,"x":11.0,"y":-3.38},{"p":9,"x":11.1,"y":-3.6},{"p":9,"x":11.2,"y":-3.84},{"p":9,"x":11.3,"y":-4.06},{"p":9,"x":11.4,"y":-4.25},{"p":9,"x":11.5,"y":-4.46},{"p":9,"x":11.6,"y":-4.62},{"p":9,"x":11.7,"y":-4.84},
{"p":10,"x":8.1,"y":-1.97},{"p":10,"x":8.2,"y":-1.99},{"p":10,"x":8.3,"y":-2.01},{"p":10,"x":8.4,"y":-2.03},{"p":10,"x":8.5,"y":-2.05},{"p":10,"x":8.6,"y":-2.07},{"p":10,"x":8.7,"y":-2.1},{"p":10,"x":8.8,"y":-2.13},{"p":10,"x":8.9,"y":-2.16},{"p":10,"x":9.0,"y":-2.2},{"p":10,"x":9.1,"y":-2.24},{"p":10,"x":9.2,"y":-2.28},{"p":10,"x":9.3,"y":-2.33},{"p":10,"x":9.4,"y":-2.38},{"p":10,"x":9.5,"y":-2.43},{"p":10,"x":9.6,"y":-2.48},{"p":10,"x":9.7,"y":-2.53},{"p":10,"x":9.8,"y":-2.58},{"p":10,"x":9.9,"y":-2.63},{"p":10,"x":10.0,"y":-2.69},{"p":10,"x":10.1,"y":-2.76},{"p":10,"x":10.2,"y":-2.83},{"p":10,"x":10.3,"y":-2.9},{"p":10,"x":10.4,"y":-2.97},{"p":10,"x":10.5,"y":-3.05},{"p":10,"x":10.6,"y":-3.16},{"p":10,"x":10.7,"y":-3.29},{"p":10,"x":10.8,"y":-3.44},{"p":10,"x":10.9,"y":-3.58},{"p":10,"x":11.0,"y":-3.75},{"p":10,"x":11.1,"y":-3.9},{"p":10,"x":11.2,"y":-4.06},{"p":10,"x":11.3,"y":-4.18},{"p":10,"x":11.4,"y":-4.3},{"p":10,"x":11.5,"y":-4.46},{"p":10,"x":11.6,"y":-4.64},{"p":10,"x":11.7,"y":-4.86},
{"p":11,"x":8.1,"y":-2.1},{"p":11,"x":8.2,"y":-2.12},{"p":11,"x":8.3,"y":-2.14},{"p":11,"x":8.4,"y":-2.17},{"p":11,"x":8.5,"y":-2.19},{"p":11,"x":8.6,"y":-2.22},{"p":11,"x":8.7,"y":-2.26},{"p":11,"x":8.8,"y":-2.29},{"p":11,"x":8.9,"y":-2.33},{"p":11,"x":9.0,"y":-2.37},{"p":11,"x":9.1,"y":-2.41},{"p":11,"x":9.2,"y":-2.46},{"p":11,"x":9.3,"y":-2.5},{"p":11,"x":9.4,"y":-2.55},{"p":11,"x":9.5,"y":-2.6},{"p":11,"x":9.6,"y":-2.66},{"p":11,"x":9.7,"y":-2.72},{"p":11,"x":9.8,"y":-2.78},{"p":11,"x":9.9,"y":-2.84},{"p":11,"x":10.0,"y":-2.91},{"p":11,"x":10.1,"y":-2.97},{"p":11,"x":10.2,"y":-3.04},{"p":11,"x":10.3,"y":-3.11},{"p":11,"x":10.4,"y":-3.18},{"p":11,"x":10.5,"y":-3.25},{"p":11,"x":10.6,"y":-3.33},{"p":11,"x":10.7,"y":-3.41},{"p":11,"x":10.8,"y":-3.52},{"p":11,"x":10.9,"y":-3.65},{"p":11,"x":11.0,"y":-3.78},{"p":11,"x":11.1,"y":-3.94},{"p":11,"x":11.2,"y":-4.1},{"p":11,"x":11.3,"y":-4.21},{"p":11,"x":11.4,"y":-4.35},{"p":11,"x":11.5,"y":-4.54},{"p":11,"x":11.6,"y":-4.67},{"p":11,"x":11.7,"y":-4.8},{"p":11,"x":11.8,"y":-4.95},
{"p":12,"x":8.1,"y":-2.15},{"p":12,"x":8.2,"y":-2.15},{"p":12,"x":8.3,"y":-2.15},{"p":12,"x":8.4,"y":-2.16},{"p":12,"x":8.5,"y":-2.18},{"p":12,"x":8.6,"y":-2.21},{"p":12,"x":8.7,"y":-2.27},{"p":12,"x":8.8,"y":-2.33},{"p":12,"x":8.9,"y":-2.4},{"p":12,"x":9.0,"y":-2.47},{"p":12,"x":9.1,"y":-2.53},{"p":12,"x":9.2,"y":-2.58},{"p":12,"x":9.3,"y":-2.62},{"p":12,"x":9.4,"y":-2.66},{"p":12,"x":9.5,"y":-2.7},{"p":12,"x":9.6,"y":-2.74},{"p":12,"x":9.7,"y":-2.78},{"p":12,"x":9.8,"y":-2.82},{"p":12,"x":9.9,"y":-2.87},{"p":12,"x":10.0,"y":-2.92},{"p":12,"x":10.1,"y":-2.97},{"p":12,"x":10.2,"y":-3.02},{"p":12,"x":10.3,"y":-3.08},{"p":12,"x":10.4,"y":-3.14},{"p":12,"x":10.5,"y":-3.22},{"p":12,"x":10.6,"y":-3.32},{"p":12,"x":10.7,"y":-3.45},{"p":12,"x":10.8,"y":-3.58},{"p":12,"x":10.9,"y":-3.66},{"p":12,"x":11.0,"y":-3.79},{"p":12,"x":11.1,"y":-3.93},{"p":12,"x":11.2,"y":-4.06},{"p":12,"x":11.3,"y":-4.18},{"p":12,"x":11.4,"y":-4.3},{"p":12,"x":11.5,"y":-4.42},{"p":12,"x":11.6,"y":-4.53},{"p":12,"x":11.7,"y":-4.55},{"p":12,"x":11.8,"y":-4.72},{"p":12,"x":11.9,"y":-4.76}
]
},
"columns":4,
"spacing":0,
"bounds":"flush",
"resolve":{"scale":{"fill":"independent","color":"independent","shape":"independent","stroke":"independent"},"legend":{"fill":"independent","color":"independent","shape":"independent","stroke":"independent"}},
"concat":[
{"width":178.5,"height":184,"resolve":{"axis":{"x":"independent","y":"independent"}},"layer":[
{"data":{"name":"pg"},"transform":[{"filter":"datum.p==1"}],"mark":{"type":"line","color":"#0000ff","strokeWidth":1.4,"clip":true,"interpolate":"monotone"},"encoding":{"x":{"field":"x","type":"quantitative","scale":{"domain":[7.8,12.2],"nice":false,"zero":false},"axis":{"orient":"bottom","values":[8,9,10,11,12],"labels":false,"title":null}},"y":{"field":"y","type":"quantitative","scale":{"domain":[-5,-0.5],"nice":false,"zero":false},"axis":{"orient":"left","values":[-1,-2,-3,-4],"labelExpr":"''+datum.value","title":null}}}},
{"data":{"name":"eb"},"transform":[{"filter":"datum.p==1"}],"mark":{"type":"rule","color":"black","strokeWidth":1.1,"clip":true},"encoding":{"x":{"field":"x","type":"quantitative","scale":{"domain":[7.8,12.2],"nice":false,"zero":false},"axis":{"orient":"top","values":[8,9,10,11,12],"labels":false,"title":null}},"y":{"field":"lo","type":"quantitative","scale":{"domain":[-5,-0.5],"nice":false,"zero":false},"axis":{"orient":"right","values":[-1,-2,-3,-4],"labels":false,"title":null}},"y2":{"field":"hi"}}},
{"data":{"name":"eb"},"transform":[{"filter":"datum.p==1"}],"mark":{"type":"tick","orient":"horizontal","size":6,"thickness":1.1,"color":"black","clip":true},"encoding":{"x":{"field":"x","type":"quantitative","scale":{"domain":[7.8,12.2],"nice":false,"zero":false},"axis":null},"y":{"field":"lo","type":"quantitative","scale":{"domain":[-5,-0.5],"nice":false,"zero":false},"axis":null}}},
{"data":{"name":"eb"},"transform":[{"filter":"datum.p==1"}],"mark":{"type":"tick","orient":"horizontal","size":6,"thickness":1.1,"color":"black","clip":true},"encoding":{"x":{"field":"x","type":"quantitative","scale":{"domain":[7.8,12.2],"nice":false,"zero":false},"axis":null},"y":{"field":"hi","type":"quantitative","scale":{"domain":[-5,-0.5],"nice":false,"zero":false},"axis":null}}},
{"data":{"name":"lu"},"transform":[{"filter":"datum.p==1"}],"mark":{"type":"tick","orient":"horizontal","size":9,"thickness":1.1,"color":"black","clip":true},"encoding":{"x":{"field":"x","type":"quantitative","scale":{"domain":[7.8,12.2],"nice":false,"zero":false},"axis":null},"y":{"field":"y","type":"quantitative","scale":{"domain":[-5,-0.5],"nice":false,"zero":false},"axis":null}}},
{"data":{"name":"eb"},"transform":[{"filter":"datum.p==1"}],"mark":{"type":"circle","size":28,"stroke":"black","strokeWidth":0.6,"opacity":1,"clip":true},"encoding":{"x":{"field":"x","type":"quantitative","scale":{"domain":[7.8,12.2],"nice":false,"zero":false},"axis":null},"y":{"field":"y","type":"quantitative","scale":{"domain":[-5,-0.5],"nice":false,"zero":false},"axis":null},"fill":{"field":"s","type":"nominal","scale":{"domain":["PG08","Drory05","L500","Lu2014"],"range":["#0000ff","#000000","#bfbf00","#00bfbf"]},"legend":null}}},
{"data":{"name":"lu"},"transform":[{"filter":"datum.p==1"}],"mark":{"type":"circle","size":18,"color":"#00bfbf","stroke":"black","strokeWidth":0.6,"opacity":1,"clip":true},"encoding":{"x":{"field":"x","type":"quantitative","scale":{"domain":[7.8,12.2],"nice":false,"zero":false},"axis":null},"y":{"field":"y","type":"quantitative","scale":{"domain":[-5,-0.5],"nice":false,"zero":false},"axis":null}}},
{"data":{"values":[{"t":"0.0 < z ≤ 0.2"}]},"mark":{"type":"text","align":"left","baseline":"middle","font":"DejaVu Serif","fontSize":14,"color":"#222222"},"encoding":{"x":{"datum":8.0,"type":"quantitative","scale":{"domain":[7.8,12.2],"nice":false,"zero":false},"axis":null},"y":{"datum":-4.36,"type":"quantitative","scale":{"domain":[-5,-0.5],"nice":false,"zero":false},"axis":null},"text":{"field":"t"}}}
]},
{"width":178.5,"height":184,"resolve":{"axis":{"x":"independent","y":"independent"}},"layer":[
{"data":{"name":"pg"},"transform":[{"filter":"datum.p==2"}],"mark":{"type":"line","color":"#0000ff","strokeWidth":1.4,"clip":true,"interpolate":"monotone"},"encoding":{"x":{"field":"x","type":"quantitative","scale":{"domain":[7.8,12.2],"nice":false,"zero":false},"axis":{"orient":"bottom","values":[8,9,10,11,12],"labels":false,"title":null}},"y":{"field":"y","type":"quantitative","scale":{"domain":[-5,-0.5],"nice":false,"zero":false},"axis":{"orient":"left","values":[-1,-2,-3,-4],"labels":false,"title":null}}}},
{"data":{"name":"eb"},"transform":[{"filter":"datum.p==2"}],"mark":{"type":"rule","color":"black","strokeWidth":1.1,"clip":true},"encoding":{"x":{"field":"x","type":"quantitative","scale":{"domain":[7.8,12.2],"nice":false,"zero":false},"axis":{"orient":"top","values":[8,9,10,11,12],"labels":false,"title":null}},"y":{"field":"lo","type":"quantitative","scale":{"domain":[-5,-0.5],"nice":false,"zero":false},"axis":{"orient":"right","values":[-1,-2,-3,-4],"labels":false,"title":null}},"y2":{"field":"hi"}}},
{"data":{"name":"eb"},"transform":[{"filter":"datum.p==2"}],"mark":{"type":"tick","orient":"horizontal","size":6,"thickness":1.1,"color":"black","clip":true},"encoding":{"x":{"field":"x","type":"quantitative","scale":{"domain":[7.8,12.2],"nice":false,"zero":false},"axis":null},"y":{"field":"lo","type":"quantitative","scale":{"domain":[-5,-0.5],"nice":false,"zero":false},"axis":null}}},
{"data":{"name":"eb"},"transform":[{"filter":"datum.p==2"}],"mark":{"type":"tick","orient":"horizontal","size":6,"thickness":1.1,"color":"black","clip":true},"encoding":{"x":{"field":"x","type":"quantitative","scale":{"domain":[7.8,12.2],"nice":false,"zero":false},"axis":null},"y":{"field":"hi","type":"quantitative","scale":{"domain":[-5,-0.5],"nice":false,"zero":false},"axis":null}}},
{"data":{"name":"lu"},"transform":[{"filter":"datum.p==2"}],"mark":{"type":"tick","orient":"horizontal","size":9,"thickness":1.1,"color":"black","clip":true},"encoding":{"x":{"field":"x","type":"quantitative","scale":{"domain":[7.8,12.2],"nice":false,"zero":false},"axis":null},"y":{"field":"y","type":"quantitative","scale":{"domain":[-5,-0.5],"nice":false,"zero":false},"axis":null}}},
{"data":{"name":"eb"},"transform":[{"filter":"datum.p==2"}],"mark":{"type":"circle","size":28,"stroke":"black","strokeWidth":0.6,"opacity":1,"clip":true},"encoding":{"x":{"field":"x","type":"quantitative","scale":{"domain":[7.8,12.2],"nice":false,"zero":false},"axis":null},"y":{"field":"y","type":"quantitative","scale":{"domain":[-5,-0.5],"nice":false,"zero":false},"axis":null},"fill":{"field":"s","type":"nominal","scale":{"domain":["PG08","Drory05","L500","Lu2014"],"range":["#0000ff","#000000","#bfbf00","#00bfbf"]},"legend":null}}},
{"data":{"name":"lu"},"transform":[{"filter":"datum.p==2"}],"mark":{"type":"circle","size":18,"color":"#00bfbf","stroke":"black","strokeWidth":0.6,"opacity":1,"clip":true},"encoding":{"x":{"field":"x","type":"quantitative","scale":{"domain":[7.8,12.2],"nice":false,"zero":false},"axis":null},"y":{"field":"y","type":"quantitative","scale":{"domain":[-5,-0.5],"nice":false,"zero":false},"axis":null}}},
{"data":{"values":[{"t":"0.2 < z ≤ 0.4"}]},"mark":{"type":"text","align":"left","baseline":"middle","font":"DejaVu Serif","fontSize":14,"color":"#222222"},"encoding":{"x":{"datum":8.0,"type":"quantitative","scale":{"domain":[7.8,12.2],"nice":false,"zero":false},"axis":null},"y":{"datum":-4.36,"type":"quantitative","scale":{"domain":[-5,-0.5],"nice":false,"zero":false},"axis":null},"text":{"field":"t"}}}
]},
{"width":178.5,"height":184,"resolve":{"axis":{"x":"independent","y":"independent"}},"layer":[
{"data":{"name":"pg"},"transform":[{"filter":"datum.p==3"}],"mark":{"type":"line","color":"#0000ff","strokeWidth":1.4,"clip":true,"interpolate":"monotone"},"encoding":{"x":{"field":"x","type":"quantitative","scale":{"domain":[7.8,12.2],"nice":false,"zero":false},"axis":{"orient":"bottom","values":[8,9,10,11,12],"labels":false,"title":null}},"y":{"field":"y","type":"quantitative","scale":{"domain":[-5,-0.5],"nice":false,"zero":false},"axis":{"orient":"left","values":[-1,-2,-3,-4],"labels":false,"title":null}}}},
{"data":{"name":"eb"},"transform":[{"filter":"datum.p==3"}],"mark":{"type":"rule","color":"black","strokeWidth":1.1,"clip":true},"encoding":{"x":{"field":"x","type":"quantitative","scale":{"domain":[7.8,12.2],"nice":false,"zero":false},"axis":{"orient":"top","values":[8,9,10,11,12],"labels":false,"title":null}},"y":{"field":"lo","type":"quantitative","scale":{"domain":[-5,-0.5],"nice":false,"zero":false},"axis":{"orient":"right","values":[-1,-2,-3,-4],"labels":false,"title":null}},"y2":{"field":"hi"}}},
{"data":{"name":"eb"},"transform":[{"filter":"datum.p==3"}],"mark":{"type":"tick","orient":"horizontal","size":6,"thickness":1.1,"color":"black","clip":true},"encoding":{"x":{"field":"x","type":"quantitative","scale":{"domain":[7.8,12.2],"nice":false,"zero":false},"axis":null},"y":{"field":"lo","type":"quantitative","scale":{"domain":[-5,-0.5],"nice":false,"zero":false},"axis":null}}},
{"data":{"name":"eb"},"transform":[{"filter":"datum.p==3"}],"mark":{"type":"tick","orient":"horizontal","size":6,"thickness":1.1,"color":"black","clip":true},"encoding":{"x":{"field":"x","type":"quantitative","scale":{"domain":[7.8,12.2],"nice":false,"zero":false},"axis":null},"y":{"field":"hi","type":"quantitative","scale":{"domain":[-5,-0.5],"nice":false,"zero":false},"axis":null}}},
{"data":{"name":"lu"},"transform":[{"filter":"datum.p==3"}],"mark":{"type":"tick","orient":"horizontal","size":9,"thickness":1.1,"color":"black","clip":true},"encoding":{"x":{"field":"x","type":"quantitative","scale":{"domain":[7.8,12.2],"nice":false,"zero":false},"axis":null},"y":{"field":"y","type":"quantitative","scale":{"domain":[-5,-0.5],"nice":false,"zero":false},"axis":null}}},
{"data":{"name":"eb"},"transform":[{"filter":"datum.p==3"}],"mark":{"type":"circle","size":28,"stroke":"black","strokeWidth":0.6,"opacity":1,"clip":true},"encoding":{"x":{"field":"x","type":"quantitative","scale":{"domain":[7.8,12.2],"nice":false,"zero":false},"axis":null},"y":{"field":"y","type":"quantitative","scale":{"domain":[-5,-0.5],"nice":false,"zero":false},"axis":null},"fill":{"field":"s","type":"nominal","scale":{"domain":["PG08","Drory05","L500","Lu2014"],"range":["#0000ff","#000000","#bfbf00","#00bfbf"]},"legend":null}}},
{"data":{"name":"lu"},"transform":[{"filter":"datum.p==3"}],"mark":{"type":"circle","size":18,"color":"#00bfbf","stroke":"black","strokeWidth":0.6,"opacity":1,"clip":true},"encoding":{"x":{"field":"x","type":"quantitative","scale":{"domain":[7.8,12.2],"nice":false,"zero":false},"axis":null},"y":{"field":"y","type":"quantitative","scale":{"domain":[-5,-0.5],"nice":false,"zero":false},"axis":null}}},
{"data":{"values":[{"t":"0.4 < z ≤ 0.6"}]},"mark":{"type":"text","align":"left","baseline":"middle","font":"DejaVu Serif","fontSize":14,"color":"#222222"},"encoding":{"x":{"datum":8.0,"type":"quantitative","scale":{"domain":[7.8,12.2],"nice":false,"zero":false},"axis":null},"y":{"datum":-4.36,"type":"quantitative","scale":{"domain":[-5,-0.5],"nice":false,"zero":false},"axis":null},"text":{"field":"t"}}},
{"data":{"values":[{"t":"0.25 < z ≤ 0.75"}]},"mark":{"type":"text","align":"left","baseline":"middle","font":"DejaVu Serif","fontSize":14,"color":"#bfbf00"},"encoding":{"x":{"datum":9.3,"type":"quantitative","scale":{"domain":[7.8,12.2],"nice":false,"zero":false},"axis":null},"y":{"datum":-1.07,"type":"quantitative","scale":{"domain":[-5,-0.5],"nice":false,"zero":false},"axis":null},"text":{"field":"t"}}}
]},
{"width":178.5,"height":184,"resolve":{"axis":{"x":"independent","y":"independent"}},"layer":[
{"data":{"name":"pg"},"transform":[{"filter":"datum.p==4"}],"mark":{"type":"line","color":"#0000ff","strokeWidth":1.4,"clip":true,"interpolate":"monotone"},"encoding":{"x":{"field":"x","type":"quantitative","scale":{"domain":[7.8,12.2],"nice":false,"zero":false},"axis":{"orient":"bottom","values":[8,9,10,11,12],"labels":false,"title":null}},"y":{"field":"y","type":"quantitative","scale":{"domain":[-5,-0.5],"nice":false,"zero":false},"axis":{"orient":"left","values":[-1,-2,-3,-4],"labels":false,"title":null}}}},
{"data":{"name":"eb"},"transform":[{"filter":"datum.p==4"}],"mark":{"type":"rule","color":"black","strokeWidth":1.1,"clip":true},"encoding":{"x":{"field":"x","type":"quantitative","scale":{"domain":[7.8,12.2],"nice":false,"zero":false},"axis":{"orient":"top","values":[8,9,10,11,12],"labels":false,"title":null}},"y":{"field":"lo","type":"quantitative","scale":{"domain":[-5,-0.5],"nice":false,"zero":false},"axis":{"orient":"right","values":[-1,-2,-3,-4],"labels":false,"title":null}},"y2":{"field":"hi"}}},
{"data":{"name":"eb"},"transform":[{"filter":"datum.p==4"}],"mark":{"type":"tick","orient":"horizontal","size":6,"thickness":1.1,"color":"black","clip":true},"encoding":{"x":{"field":"x","type":"quantitative","scale":{"domain":[7.8,12.2],"nice":false,"zero":false},"axis":null},"y":{"field":"lo","type":"quantitative","scale":{"domain":[-5,-0.5],"nice":false,"zero":false},"axis":null}}},
{"data":{"name":"eb"},"transform":[{"filter":"datum.p==4"}],"mark":{"type":"tick","orient":"horizontal","size":6,"thickness":1.1,"color":"black","clip":true},"encoding":{"x":{"field":"x","type":"quantitative","scale":{"domain":[7.8,12.2],"nice":false,"zero":false},"axis":null},"y":{"field":"hi","type":"quantitative","scale":{"domain":[-5,-0.5],"nice":false,"zero":false},"axis":null}}},
{"data":{"name":"lu"},"transform":[{"filter":"datum.p==4"}],"mark":{"type":"tick","orient":"horizontal","size":9,"thickness":1.1,"color":"black","clip":true},"encoding":{"x":{"field":"x","type":"quantitative","scale":{"domain":[7.8,12.2],"nice":false,"zero":false},"axis":null},"y":{"field":"y","type":"quantitative","scale":{"domain":[-5,-0.5],"nice":false,"zero":false},"axis":null}}},
{"data":{"name":"eb"},"transform":[{"filter":"datum.p==4"}],"mark":{"type":"circle","size":28,"stroke":"black","strokeWidth":0.6,"opacity":1,"clip":true},"encoding":{"x":{"field":"x","type":"quantitative","scale":{"domain":[7.8,12.2],"nice":false,"zero":false},"axis":null},"y":{"field":"y","type":"quantitative","scale":{"domain":[-5,-0.5],"nice":false,"zero":false},"axis":null},"fill":{"field":"s","type":"nominal","scale":{"domain":["PG08","Drory05","L500","Lu2014"],"range":["#0000ff","#000000","#bfbf00","#00bfbf"]},"legend":null}}},
{"data":{"name":"lu"},"transform":[{"filter":"datum.p==4"}],"mark":{"type":"circle","size":18,"color":"#00bfbf","stroke":"black","strokeWidth":0.6,"opacity":1,"clip":true},"encoding":{"x":{"field":"x","type":"quantitative","scale":{"domain":[7.8,12.2],"nice":false,"zero":false},"axis":null},"y":{"field":"y","type":"quantitative","scale":{"domain":[-5,-0.5],"nice":false,"zero":false},"axis":null}}},
{"data":{"values":[{"t":"0.6 < z ≤ 0.8"}]},"mark":{"type":"text","align":"left","baseline":"middle","font":"DejaVu Serif","fontSize":14,"color":"#222222"},"encoding":{"x":{"datum":8.0,"type":"quantitative","scale":{"domain":[7.8,12.2],"nice":false,"zero":false},"axis":null},"y":{"datum":-4.36,"type":"quantitative","scale":{"domain":[-5,-0.5],"nice":false,"zero":false},"axis":null},"text":{"field":"t"}}}
]},
{"width":178.5,"height":184,"resolve":{"axis":{"x":"independent","y":"independent"}},"layer":[
{"data":{"name":"pg"},"transform":[{"filter":"datum.p==5"}],"mark":{"type":"line","color":"#0000ff","strokeWidth":1.4,"clip":true,"interpolate":"monotone"},"encoding":{"x":{"field":"x","type":"quantitative","scale":{"domain":[7.8,12.2],"nice":false,"zero":false},"axis":{"orient":"bottom","values":[8,9,10,11,12],"labels":false,"title":null}},"y":{"field":"y","type":"quantitative","scale":{"domain":[-5,-0.5],"nice":false,"zero":false},"axis":{"orient":"left","values":[-1,-2,-3,-4],"labelExpr":"''+datum.value","title":"log[Φ(M∗)dlog(M∗)]Mpc⁻³h³","titleFontSize":20,"titlePadding":16}}}},
{"data":{"name":"eb"},"transform":[{"filter":"datum.p==5"}],"mark":{"type":"rule","color":"black","strokeWidth":1.1,"clip":true},"encoding":{"x":{"field":"x","type":"quantitative","scale":{"domain":[7.8,12.2],"nice":false,"zero":false},"axis":{"orient":"top","values":[8,9,10,11,12],"labels":false,"title":null}},"y":{"field":"lo","type":"quantitative","scale":{"domain":[-5,-0.5],"nice":false,"zero":false},"axis":{"orient":"right","values":[-1,-2,-3,-4],"labels":false,"title":null}},"y2":{"field":"hi"}}},
{"data":{"name":"eb"},"transform":[{"filter":"datum.p==5"}],"mark":{"type":"tick","orient":"horizontal","size":6,"thickness":1.1,"color":"black","clip":true},"encoding":{"x":{"field":"x","type":"quantitative","scale":{"domain":[7.8,12.2],"nice":false,"zero":false},"axis":null},"y":{"field":"lo","type":"quantitative","scale":{"domain":[-5,-0.5],"nice":false,"zero":false},"axis":null}}},
{"data":{"name":"eb"},"transform":[{"filter":"datum.p==5"}],"mark":{"type":"tick","orient":"horizontal","size":6,"thickness":1.1,"color":"black","clip":true},"encoding":{"x":{"field":"x","type":"quantitative","scale":{"domain":[7.8,12.2],"nice":false,"zero":false},"axis":null},"y":{"field":"hi","type":"quantitative","scale":{"domain":[-5,-0.5],"nice":false,"zero":false},"axis":null}}},
{"data":{"name":"lu"},"transform":[{"filter":"datum.p==5"}],"mark":{"type":"tick","orient":"horizontal","size":9,"thickness":1.1,"color":"black","clip":true},"encoding":{"x":{"field":"x","type":"quantitative","scale":{"domain":[7.8,12.2],"nice":false,"zero":false},"axis":null},"y":{"field":"y","type":"quantitative","scale":{"domain":[-5,-0.5],"nice":false,"zero":false},"axis":null}}},
{"data":{"name":"eb"},"transform":[{"filter":"datum.p==5"}],"mark":{"type":"circle","size":28,"stroke":"black","strokeWidth":0.6,"opacity":1,"clip":true},"encoding":{"x":{"field":"x","type":"quantitative","scale":{"domain":[7.8,12.2],"nice":false,"zero":false},"axis":null},"y":{"field":"y","type":"quantitative","scale":{"domain":[-5,-0.5],"nice":false,"zero":false},"axis":null},"color":{"field":"s","type":"nominal","scale":{"domain":["Drory05","L500"],"range":["#000000","#bfbf00"]},"legend":null}}},
{"data":{"name":"lu"},"transform":[{"filter":"datum.p==5"}],"mark":{"type":"circle","size":18,"color":"#00bfbf","stroke":"black","strokeWidth":0.6,"opacity":1,"clip":true},"encoding":{"x":{"field":"x","type":"quantitative","scale":{"domain":[7.8,12.2],"nice":false,"zero":false},"axis":null},"y":{"field":"y","type":"quantitative","scale":{"domain":[-5,-0.5],"nice":false,"zero":false},"axis":null}}},
{"data":{"name":"eb"},"transform":[{"filter":"false"}],"mark":{"type":"point","filled":true,"opacity":1},"encoding":{"x":{"field":"x","type":"quantitative","scale":{"domain":[7.8,12.2],"nice":false,"zero":false},"axis":null},"y":{"field":"y","type":"quantitative","scale":{"domain":[-5,-0.5],"nice":false,"zero":false},"axis":null},
"fill":{"field":"s","type":"nominal","scale":{"domain":["PG08","Drory05","L500","Lu2014"],"range":["transparent","#000000","#bfbf00","#00bfbf"]},"legend":{"orient":"none","legendX":22,"legendY":80,"title":null,"padding":0,"rowPadding":0,"labelFont":"DejaVu Serif","labelFontSize":9,"labelColor":"black","labelOffset":14,"symbolSize":72,"symbolStrokeWidth":1.1,"symbolOpacity":1}},
"shape":{"field":"s","type":"nominal","scale":{"domain":["PG08","Drory05","L500","Lu2014"],"range":["M-1.76,0H1.76","M-2.2,0A0.7,0.7,0,1,0,-0.8,0A0.7,0.7,0,1,0,-2.2,0ZM0.8,0A0.7,0.7,0,1,0,2.2,0A0.7,0.7,0,1,0,0.8,0ZM-1.5,-0.7V-1.4M-1.5,0.7V1.4M-2.05,-1.4H-0.95M-2.05,1.4H-0.95M1.5,-0.7V-1.4M1.5,0.7V1.4M0.95,-1.4H2.05M0.95,1.4H2.05","M-2.2,0A0.7,0.7,0,1,0,-0.8,0A0.7,0.7,0,1,0,-2.2,0ZM0.8,0A0.7,0.7,0,1,0,2.2,0A0.7,0.7,0,1,0,0.8,0ZM-1.5,-0.7V-1.4M-1.5,0.7V1.4M-2.05,-1.4H-0.95M-2.05,1.4H-0.95M1.5,-0.7V-1.4M1.5,0.7V1.4M0.95,-1.4H2.05M0.95,1.4H2.05","M-2.2,0A0.7,0.7,0,1,0,-0.8,0A0.7,0.7,0,1,0,-2.2,0ZM0.8,0A0.7,0.7,0,1,0,2.2,0A0.7,0.7,0,1,0,0.8,0ZM-1.5,-0.7V-1.4M-1.5,0.7V1.4M-2.05,-1.4H-0.95M-2.05,1.4H-0.95M1.5,-0.7V-1.4M1.5,0.7V1.4M0.95,-1.4H2.05M0.95,1.4H2.05M-2.2,0H-2.7M-0.8,0H-0.3M0.8,0H0.3M2.2,0H2.7"]},"legend":{"orient":"none","legendX":22,"legendY":80,"title":null,"padding":0,"rowPadding":0,"labelFont":"DejaVu Serif","labelFontSize":9,"labelColor":"black","labelOffset":14,"symbolSize":72,"symbolStrokeWidth":1.1,"symbolOpacity":1}},
"stroke":{"field":"s","type":"nominal","scale":{"domain":["PG08","Drory05","L500","Lu2014"],"range":["#0000ff","#000000","#000000","#000000"]},"legend":{"orient":"none","legendX":22,"legendY":80,"title":null,"padding":0,"rowPadding":0,"labelFont":"DejaVu Serif","labelFontSize":9,"labelColor":"black","labelOffset":14,"symbolSize":72,"symbolStrokeWidth":1.1,"symbolOpacity":1}}}},
{"data":{"values":[{"t":"0.8 < z ≤ 1.0"}]},"mark":{"type":"text","align":"left","baseline":"middle","font":"DejaVu Serif","fontSize":14,"color":"#222222"},"encoding":{"x":{"datum":8.0,"type":"quantitative","scale":{"domain":[7.8,12.2],"nice":false,"zero":false},"axis":null},"y":{"datum":-4.36,"type":"quantitative","scale":{"domain":[-5,-0.5],"nice":false,"zero":false},"axis":null},"text":{"field":"t"}}},
{"data":{"values":[{"t":"0.75 < z ≤ 1.25"}]},"mark":{"type":"text","align":"left","baseline":"middle","font":"DejaVu Serif","fontSize":14,"color":"#bfbf00"},"encoding":{"x":{"datum":9.3,"type":"quantitative","scale":{"domain":[7.8,12.2],"nice":false,"zero":false},"axis":null},"y":{"datum":-1.07,"type":"quantitative","scale":{"domain":[-5,-0.5],"nice":false,"zero":false},"axis":null},"text":{"field":"t"}}}
]},
{"width":178.5,"height":184,"resolve":{"axis":{"x":"independent","y":"independent"}},"layer":[
{"data":{"name":"pg"},"transform":[{"filter":"datum.p==6"}],"mark":{"type":"line","color":"#0000ff","strokeWidth":1.4,"clip":true,"interpolate":"monotone"},"encoding":{"x":{"field":"x","type":"quantitative","scale":{"domain":[7.8,12.2],"nice":false,"zero":false},"axis":{"orient":"bottom","values":[8,9,10,11,12],"labels":false,"title":null}},"y":{"field":"y","type":"quantitative","scale":{"domain":[-5,-0.5],"nice":false,"zero":false},"axis":{"orient":"left","values":[-1,-2,-3,-4],"labels":false,"title":null}}}},
{"data":{"name":"eb"},"transform":[{"filter":"datum.p==6"}],"mark":{"type":"rule","color":"black","strokeWidth":1.1,"clip":true},"encoding":{"x":{"field":"x","type":"quantitative","scale":{"domain":[7.8,12.2],"nice":false,"zero":false},"axis":{"orient":"top","values":[8,9,10,11,12],"labels":false,"title":null}},"y":{"field":"lo","type":"quantitative","scale":{"domain":[-5,-0.5],"nice":false,"zero":false},"axis":{"orient":"right","values":[-1,-2,-3,-4],"labels":false,"title":null}},"y2":{"field":"hi"}}},
{"data":{"name":"eb"},"transform":[{"filter":"datum.p==6"}],"mark":{"type":"tick","orient":"horizontal","size":6,"thickness":1.1,"color":"black","clip":true},"encoding":{"x":{"field":"x","type":"quantitative","scale":{"domain":[7.8,12.2],"nice":false,"zero":false},"axis":null},"y":{"field":"lo","type":"quantitative","scale":{"domain":[-5,-0.5],"nice":false,"zero":false},"axis":null}}},
{"data":{"name":"eb"},"transform":[{"filter":"datum.p==6"}],"mark":{"type":"tick","orient":"horizontal","size":6,"thickness":1.1,"color":"black","clip":true},"encoding":{"x":{"field":"x","type":"quantitative","scale":{"domain":[7.8,12.2],"nice":false,"zero":false},"axis":null},"y":{"field":"hi","type":"quantitative","scale":{"domain":[-5,-0.5],"nice":false,"zero":false},"axis":null}}},
{"data":{"name":"lu"},"transform":[{"filter":"datum.p==6"}],"mark":{"type":"tick","orient":"horizontal","size":9,"thickness":1.1,"color":"black","clip":true},"encoding":{"x":{"field":"x","type":"quantitative","scale":{"domain":[7.8,12.2],"nice":false,"zero":false},"axis":null},"y":{"field":"y","type":"quantitative","scale":{"domain":[-5,-0.5],"nice":false,"zero":false},"axis":null}}},
{"data":{"name":"eb"},"transform":[{"filter":"datum.p==6"}],"mark":{"type":"circle","size":28,"stroke":"black","strokeWidth":0.6,"opacity":1,"clip":true},"encoding":{"x":{"field":"x","type":"quantitative","scale":{"domain":[7.8,12.2],"nice":false,"zero":false},"axis":null},"y":{"field":"y","type":"quantitative","scale":{"domain":[-5,-0.5],"nice":false,"zero":false},"axis":null},"fill":{"field":"s","type":"nominal","scale":{"domain":["PG08","Drory05","L500","Lu2014"],"range":["#0000ff","#000000","#bfbf00","#00bfbf"]},"legend":null}}},
{"data":{"name":"lu"},"transform":[{"filter":"datum.p==6"}],"mark":{"type":"circle","size":18,"color":"#00bfbf","stroke":"black","strokeWidth":0.6,"opacity":1,"clip":true},"encoding":{"x":{"field":"x","type":"quantitative","scale":{"domain":[7.8,12.2],"nice":false,"zero":false},"axis":null},"y":{"field":"y","type":"quantitative","scale":{"domain":[-5,-0.5],"nice":false,"zero":false},"axis":null}}},
{"data":{"values":[{"t":"1.0 < z ≤ 1.3"}]},"mark":{"type":"text","align":"left","baseline":"middle","font":"DejaVu Serif","fontSize":14,"color":"#222222"},"encoding":{"x":{"datum":8.0,"type":"quantitative","scale":{"domain":[7.8,12.2],"nice":false,"zero":false},"axis":null},"y":{"datum":-4.36,"type":"quantitative","scale":{"domain":[-5,-0.5],"nice":false,"zero":false},"axis":null},"text":{"field":"t"}}}
]},
{"width":178.5,"height":184,"resolve":{"axis":{"x":"independent","y":"independent"}},"layer":[
{"data":{"name":"pg"},"transform":[{"filter":"datum.p==7"}],"mark":{"type":"line","color":"#0000ff","strokeWidth":1.4,"clip":true,"interpolate":"monotone"},"encoding":{"x":{"field":"x","type":"quantitative","scale":{"domain":[7.8,12.2],"nice":false,"zero":false},"axis":{"orient":"bottom","values":[8,9,10,11,12],"labels":false,"title":null}},"y":{"field":"y","type":"quantitative","scale":{"domain":[-5,-0.5],"nice":false,"zero":false},"axis":{"orient":"left","values":[-1,-2,-3,-4],"labels":false,"title":null}}}},
{"data":{"name":"eb"},"transform":[{"filter":"datum.p==7"}],"mark":{"type":"rule","color":"black","strokeWidth":1.1,"clip":true},"encoding":{"x":{"field":"x","type":"quantitative","scale":{"domain":[7.8,12.2],"nice":false,"zero":false},"axis":{"orient":"top","values":[8,9,10,11,12],"labels":false,"title":null}},"y":{"field":"lo","type":"quantitative","scale":{"domain":[-5,-0.5],"nice":false,"zero":false},"axis":{"orient":"right","values":[-1,-2,-3,-4],"labels":false,"title":null}},"y2":{"field":"hi"}}},
{"data":{"name":"eb"},"transform":[{"filter":"datum.p==7"}],"mark":{"type":"tick","orient":"horizontal","size":6,"thickness":1.1,"color":"black","clip":true},"encoding":{"x":{"field":"x","type":"quantitative","scale":{"domain":[7.8,12.2],"nice":false,"zero":false},"axis":null},"y":{"field":"lo","type":"quantitative","scale":{"domain":[-5,-0.5],"nice":false,"zero":false},"axis":null}}},
{"data":{"name":"eb"},"transform":[{"filter":"datum.p==7"}],"mark":{"type":"tick","orient":"horizontal","size":6,"thickness":1.1,"color":"black","clip":true},"encoding":{"x":{"field":"x","type":"quantitative","scale":{"domain":[7.8,12.2],"nice":false,"zero":false},"axis":null},"y":{"field":"hi","type":"quantitative","scale":{"domain":[-5,-0.5],"nice":false,"zero":false},"axis":null}}},
{"data":{"name":"lu"},"transform":[{"filter":"datum.p==7"}],"mark":{"type":"tick","orient":"horizontal","size":9,"thickness":1.1,"color":"black","clip":true},"encoding":{"x":{"field":"x","type":"quantitative","scale":{"domain":[7.8,12.2],"nice":false,"zero":false},"axis":null},"y":{"field":"y","type":"quantitative","scale":{"domain":[-5,-0.5],"nice":false,"zero":false},"axis":null}}},
{"data":{"name":"eb"},"transform":[{"filter":"datum.p==7"}],"mark":{"type":"circle","size":28,"stroke":"black","strokeWidth":0.6,"opacity":1,"clip":true},"encoding":{"x":{"field":"x","type":"quantitative","scale":{"domain":[7.8,12.2],"nice":false,"zero":false},"axis":null},"y":{"field":"y","type":"quantitative","scale":{"domain":[-5,-0.5],"nice":false,"zero":false},"axis":null},"fill":{"field":"s","type":"nominal","scale":{"domain":["PG08","Drory05","L500","Lu2014"],"range":["#0000ff","#000000","#bfbf00","#00bfbf"]},"legend":null}}},
{"data":{"name":"lu"},"transform":[{"filter":"datum.p==7"}],"mark":{"type":"circle","size":18,"color":"#00bfbf","stroke":"black","strokeWidth":0.6,"opacity":1,"clip":true},"encoding":{"x":{"field":"x","type":"quantitative","scale":{"domain":[7.8,12.2],"nice":false,"zero":false},"axis":null},"y":{"field":"y","type":"quantitative","scale":{"domain":[-5,-0.5],"nice":false,"zero":false},"axis":null}}},
{"data":{"values":[{"t":"1.3 < z ≤ 1.6"}]},"mark":{"type":"text","align":"left","baseline":"middle","font":"DejaVu Serif","fontSize":14,"color":"#222222"},"encoding":{"x":{"datum":8.0,"type":"quantitative","scale":{"domain":[7.8,12.2],"nice":false,"zero":false},"axis":null},"y":{"datum":-4.36,"type":"quantitative","scale":{"domain":[-5,-0.5],"nice":false,"zero":false},"axis":null},"text":{"field":"t"}}},
{"data":{"values":[{"t":"1.25 < z ≤ 1.75"}]},"mark":{"type":"text","align":"left","baseline":"middle","font":"DejaVu Serif","fontSize":14,"color":"#bfbf00"},"encoding":{"x":{"datum":9.3,"type":"quantitative","scale":{"domain":[7.8,12.2],"nice":false,"zero":false},"axis":null},"y":{"datum":-1.07,"type":"quantitative","scale":{"domain":[-5,-0.5],"nice":false,"zero":false},"axis":null},"text":{"field":"t"}}}
]},
{"width":178.5,"height":184,"resolve":{"axis":{"x":"independent","y":"independent"}},"layer":[
{"data":{"name":"pg"},"transform":[{"filter":"datum.p==8"}],"mark":{"type":"line","color":"#0000ff","strokeWidth":1.4,"clip":true,"interpolate":"monotone"},"encoding":{"x":{"field":"x","type":"quantitative","scale":{"domain":[7.8,12.2],"nice":false,"zero":false},"axis":{"orient":"bottom","values":[8,9,10,11,12],"labels":false,"title":null}},"y":{"field":"y","type":"quantitative","scale":{"domain":[-5,-0.5],"nice":false,"zero":false},"axis":{"orient":"left","values":[-1,-2,-3,-4],"labels":false,"title":null}}}},
{"data":{"name":"eb"},"transform":[{"filter":"datum.p==8"}],"mark":{"type":"rule","color":"black","strokeWidth":1.1,"clip":true},"encoding":{"x":{"field":"x","type":"quantitative","scale":{"domain":[7.8,12.2],"nice":false,"zero":false},"axis":{"orient":"top","values":[8,9,10,11,12],"labels":false,"title":null}},"y":{"field":"lo","type":"quantitative","scale":{"domain":[-5,-0.5],"nice":false,"zero":false},"axis":{"orient":"right","values":[-1,-2,-3,-4],"labels":false,"title":null}},"y2":{"field":"hi"}}},
{"data":{"name":"eb"},"transform":[{"filter":"datum.p==8"}],"mark":{"type":"tick","orient":"horizontal","size":6,"thickness":1.1,"color":"black","clip":true},"encoding":{"x":{"field":"x","type":"quantitative","scale":{"domain":[7.8,12.2],"nice":false,"zero":false},"axis":null},"y":{"field":"lo","type":"quantitative","scale":{"domain":[-5,-0.5],"nice":false,"zero":false},"axis":null}}},
{"data":{"name":"eb"},"transform":[{"filter":"datum.p==8"}],"mark":{"type":"tick","orient":"horizontal","size":6,"thickness":1.1,"color":"black","clip":true},"encoding":{"x":{"field":"x","type":"quantitative","scale":{"domain":[7.8,12.2],"nice":false,"zero":false},"axis":null},"y":{"field":"hi","type":"quantitative","scale":{"domain":[-5,-0.5],"nice":false,"zero":false},"axis":null}}},
{"data":{"name":"lu"},"transform":[{"filter":"datum.p==8"}],"mark":{"type":"tick","orient":"horizontal","size":9,"thickness":1.1,"color":"black","clip":true},"encoding":{"x":{"field":"x","type":"quantitative","scale":{"domain":[7.8,12.2],"nice":false,"zero":false},"axis":null},"y":{"field":"y","type":"quantitative","scale":{"domain":[-5,-0.5],"nice":false,"zero":false},"axis":null}}},
{"data":{"name":"eb"},"transform":[{"filter":"datum.p==8"}],"mark":{"type":"circle","size":28,"stroke":"black","strokeWidth":0.6,"opacity":1,"clip":true},"encoding":{"x":{"field":"x","type":"quantitative","scale":{"domain":[7.8,12.2],"nice":false,"zero":false},"axis":null},"y":{"field":"y","type":"quantitative","scale":{"domain":[-5,-0.5],"nice":false,"zero":false},"axis":null},"fill":{"field":"s","type":"nominal","scale":{"domain":["PG08","Drory05","L500","Lu2014"],"range":["#0000ff","#000000","#bfbf00","#00bfbf"]},"legend":null}}},
{"data":{"name":"lu"},"transform":[{"filter":"datum.p==8"}],"mark":{"type":"circle","size":18,"color":"#00bfbf","stroke":"black","strokeWidth":0.6,"opacity":1,"clip":true},"encoding":{"x":{"field":"x","type":"quantitative","scale":{"domain":[7.8,12.2],"nice":false,"zero":false},"axis":null},"y":{"field":"y","type":"quantitative","scale":{"domain":[-5,-0.5],"nice":false,"zero":false},"axis":null}}},
{"data":{"values":[{"t":"1.6 < z ≤ 2.0"}]},"mark":{"type":"text","align":"left","baseline":"middle","font":"DejaVu Serif","fontSize":14,"color":"#222222"},"encoding":{"x":{"datum":8.0,"type":"quantitative","scale":{"domain":[7.8,12.2],"nice":false,"zero":false},"axis":null},"y":{"datum":-4.36,"type":"quantitative","scale":{"domain":[-5,-0.5],"nice":false,"zero":false},"axis":null},"text":{"field":"t"}}},
{"data":{"values":[{"t":"1.75 < z ≤ 2.25"}]},"mark":{"type":"text","align":"left","baseline":"middle","font":"DejaVu Serif","fontSize":14,"color":"#bfbf00"},"encoding":{"x":{"datum":9.3,"type":"quantitative","scale":{"domain":[7.8,12.2],"nice":false,"zero":false},"axis":null},"y":{"datum":-1.07,"type":"quantitative","scale":{"domain":[-5,-0.5],"nice":false,"zero":false},"axis":null},"text":{"field":"t"}}}
]},
{"width":178.5,"height":184,"resolve":{"axis":{"x":"independent","y":"independent"}},"layer":[
{"data":{"name":"pg"},"transform":[{"filter":"datum.p==9"}],"mark":{"type":"line","color":"#0000ff","strokeWidth":1.4,"clip":true,"interpolate":"monotone"},"encoding":{"x":{"field":"x","type":"quantitative","scale":{"domain":[7.8,12.2],"nice":false,"zero":false},"axis":{"orient":"bottom","values":[8,9,10,11,12],"title":"log[M∗/(h⁻²M⊙)]","titleFontSize":16,"titlePadding":6}},"y":{"field":"y","type":"quantitative","scale":{"domain":[-5,-0.5],"nice":false,"zero":false},"axis":{"orient":"left","values":[-1,-2,-3,-4,-5],"labelExpr":"''+datum.value","title":null}}}},
{"data":{"name":"eb"},"transform":[{"filter":"datum.p==9"}],"mark":{"type":"rule","color":"black","strokeWidth":1.1,"clip":true},"encoding":{"x":{"field":"x","type":"quantitative","scale":{"domain":[7.8,12.2],"nice":false,"zero":false},"axis":{"orient":"top","values":[8,9,10,11,12],"labels":false,"title":null}},"y":{"field":"lo","type":"quantitative","scale":{"domain":[-5,-0.5],"nice":false,"zero":false},"axis":{"orient":"right","values":[-1,-2,-3,-4],"labels":false,"title":null}},"y2":{"field":"hi"}}},
{"data":{"name":"eb"},"transform":[{"filter":"datum.p==9"}],"mark":{"type":"tick","orient":"horizontal","size":6,"thickness":1.1,"color":"black","clip":true},"encoding":{"x":{"field":"x","type":"quantitative","scale":{"domain":[7.8,12.2],"nice":false,"zero":false},"axis":null},"y":{"field":"lo","type":"quantitative","scale":{"domain":[-5,-0.5],"nice":false,"zero":false},"axis":null}}},
{"data":{"name":"eb"},"transform":[{"filter":"datum.p==9"}],"mark":{"type":"tick","orient":"horizontal","size":6,"thickness":1.1,"color":"black","clip":true},"encoding":{"x":{"field":"x","type":"quantitative","scale":{"domain":[7.8,12.2],"nice":false,"zero":false},"axis":null},"y":{"field":"hi","type":"quantitative","scale":{"domain":[-5,-0.5],"nice":false,"zero":false},"axis":null}}},
{"data":{"name":"lu"},"transform":[{"filter":"datum.p==9"}],"mark":{"type":"tick","orient":"horizontal","size":9,"thickness":1.1,"color":"black","clip":true},"encoding":{"x":{"field":"x","type":"quantitative","scale":{"domain":[7.8,12.2],"nice":false,"zero":false},"axis":null},"y":{"field":"y","type":"quantitative","scale":{"domain":[-5,-0.5],"nice":false,"zero":false},"axis":null}}},
{"data":{"name":"eb"},"transform":[{"filter":"datum.p==9"}],"mark":{"type":"circle","size":28,"stroke":"black","strokeWidth":0.6,"opacity":1,"clip":true},"encoding":{"x":{"field":"x","type":"quantitative","scale":{"domain":[7.8,12.2],"nice":false,"zero":false},"axis":null},"y":{"field":"y","type":"quantitative","scale":{"domain":[-5,-0.5],"nice":false,"zero":false},"axis":null},"fill":{"field":"s","type":"nominal","scale":{"domain":["PG08","Drory05","L500","Lu2014"],"range":["#0000ff","#000000","#bfbf00","#00bfbf"]},"legend":null}}},
{"data":{"name":"lu"},"transform":[{"filter":"datum.p==9"}],"mark":{"type":"circle","size":18,"color":"#00bfbf","stroke":"black","strokeWidth":0.6,"opacity":1,"clip":true},"encoding":{"x":{"field":"x","type":"quantitative","scale":{"domain":[7.8,12.2],"nice":false,"zero":false},"axis":null},"y":{"field":"y","type":"quantitative","scale":{"domain":[-5,-0.5],"nice":false,"zero":false},"axis":null}}},
{"data":{"values":[{"t":"2.0 < z ≤ 2.5"}]},"mark":{"type":"text","align":"left","baseline":"middle","font":"DejaVu Serif","fontSize":14,"color":"#222222"},"encoding":{"x":{"datum":8.0,"type":"quantitative","scale":{"domain":[7.8,12.2],"nice":false,"zero":false},"axis":null},"y":{"datum":-4.36,"type":"quantitative","scale":{"domain":[-5,-0.5],"nice":false,"zero":false},"axis":null},"text":{"field":"t"}}}
]},
{"width":178.5,"height":184,"resolve":{"axis":{"x":"independent","y":"independent"}},"layer":[
{"data":{"name":"pg"},"transform":[{"filter":"datum.p==10"}],"mark":{"type":"line","color":"#0000ff","strokeWidth":1.4,"clip":true,"interpolate":"monotone"},"encoding":{"x":{"field":"x","type":"quantitative","scale":{"domain":[7.8,12.2],"nice":false,"zero":false},"axis":{"orient":"bottom","values":[8,9,10,11,12],"title":"log[M∗/(h⁻²M⊙)]","titleFontSize":16,"titlePadding":6}},"y":{"field":"y","type":"quantitative","scale":{"domain":[-5,-0.5],"nice":false,"zero":false},"axis":{"orient":"left","values":[-1,-2,-3,-4],"labels":false,"title":null}}}},
{"data":{"name":"eb"},"transform":[{"filter":"datum.p==10"}],"mark":{"type":"rule","color":"black","strokeWidth":1.1,"clip":true},"encoding":{"x":{"field":"x","type":"quantitative","scale":{"domain":[7.8,12.2],"nice":false,"zero":false},"axis":{"orient":"top","values":[8,9,10,11,12],"labels":false,"title":null}},"y":{"field":"lo","type":"quantitative","scale":{"domain":[-5,-0.5],"nice":false,"zero":false},"axis":{"orient":"right","values":[-1,-2,-3,-4],"labels":false,"title":null}},"y2":{"field":"hi"}}},
{"data":{"name":"eb"},"transform":[{"filter":"datum.p==10"}],"mark":{"type":"tick","orient":"horizontal","size":6,"thickness":1.1,"color":"black","clip":true},"encoding":{"x":{"field":"x","type":"quantitative","scale":{"domain":[7.8,12.2],"nice":false,"zero":false},"axis":null},"y":{"field":"lo","type":"quantitative","scale":{"domain":[-5,-0.5],"nice":false,"zero":false},"axis":null}}},
{"data":{"name":"eb"},"transform":[{"filter":"datum.p==10"}],"mark":{"type":"tick","orient":"horizontal","size":6,"thickness":1.1,"color":"black","clip":true},"encoding":{"x":{"field":"x","type":"quantitative","scale":{"domain":[7.8,12.2],"nice":false,"zero":false},"axis":null},"y":{"field":"hi","type":"quantitative","scale":{"domain":[-5,-0.5],"nice":false,"zero":false},"axis":null}}},
{"data":{"name":"lu"},"transform":[{"filter":"datum.p==10"}],"mark":{"type":"tick","orient":"horizontal","size":9,"thickness":1.1,"color":"black","clip":true},"encoding":{"x":{"field":"x","type":"quantitative","scale":{"domain":[7.8,12.2],"nice":false,"zero":false},"axis":null},"y":{"field":"y","type":"quantitative","scale":{"domain":[-5,-0.5],"nice":false,"zero":false},"axis":null}}},
{"data":{"name":"eb"},"transform":[{"filter":"datum.p==10"}],"mark":{"type":"circle","size":28,"stroke":"black","strokeWidth":0.6,"opacity":1,"clip":true},"encoding":{"x":{"field":"x","type":"quantitative","scale":{"domain":[7.8,12.2],"nice":false,"zero":false},"axis":null},"y":{"field":"y","type":"quantitative","scale":{"domain":[-5,-0.5],"nice":false,"zero":false},"axis":null},"fill":{"field":"s","type":"nominal","scale":{"domain":["PG08","Drory05","L500","Lu2014"],"range":["#0000ff","#000000","#bfbf00","#00bfbf"]},"legend":null}}},
{"data":{"name":"lu"},"transform":[{"filter":"datum.p==10"}],"mark":{"type":"circle","size":18,"color":"#00bfbf","stroke":"black","strokeWidth":0.6,"opacity":1,"clip":true},"encoding":{"x":{"field":"x","type":"quantitative","scale":{"domain":[7.8,12.2],"nice":false,"zero":false},"axis":null},"y":{"field":"y","type":"quantitative","scale":{"domain":[-5,-0.5],"nice":false,"zero":false},"axis":null}}},
{"data":{"values":[{"t":"2.5 < z ≤ 3.0"}]},"mark":{"type":"text","align":"left","baseline":"middle","font":"DejaVu Serif","fontSize":14,"color":"#222222"},"encoding":{"x":{"datum":8.0,"type":"quantitative","scale":{"domain":[7.8,12.2],"nice":false,"zero":false},"axis":null},"y":{"datum":-4.36,"type":"quantitative","scale":{"domain":[-5,-0.5],"nice":false,"zero":false},"axis":null},"text":{"field":"t"}}},
{"data":{"values":[{"t":"2.25 < z ≤ 3.0"}]},"mark":{"type":"text","align":"left","baseline":"middle","font":"DejaVu Serif","fontSize":14,"color":"#bfbf00"},"encoding":{"x":{"datum":9.3,"type":"quantitative","scale":{"domain":[7.8,12.2],"nice":false,"zero":false},"axis":null},"y":{"datum":-1.07,"type":"quantitative","scale":{"domain":[-5,-0.5],"nice":false,"zero":false},"axis":null},"text":{"field":"t"}}}
]},
{"width":178.5,"height":184,"resolve":{"axis":{"x":"independent","y":"independent"}},"layer":[
{"data":{"name":"pg"},"transform":[{"filter":"datum.p==11"}],"mark":{"type":"line","color":"#0000ff","strokeWidth":1.4,"clip":true,"interpolate":"monotone"},"encoding":{"x":{"field":"x","type":"quantitative","scale":{"domain":[7.8,12.2],"nice":false,"zero":false},"axis":{"orient":"bottom","values":[8,9,10,11,12],"title":"log[M∗/(h⁻²M⊙)]","titleFontSize":16,"titlePadding":6}},"y":{"field":"y","type":"quantitative","scale":{"domain":[-5,-0.5],"nice":false,"zero":false},"axis":{"orient":"left","values":[-1,-2,-3,-4],"labels":false,"title":null}}}},
{"data":{"name":"eb"},"transform":[{"filter":"datum.p==11"}],"mark":{"type":"rule","color":"black","strokeWidth":1.1,"clip":true},"encoding":{"x":{"field":"x","type":"quantitative","scale":{"domain":[7.8,12.2],"nice":false,"zero":false},"axis":{"orient":"top","values":[8,9,10,11,12],"labels":false,"title":null}},"y":{"field":"lo","type":"quantitative","scale":{"domain":[-5,-0.5],"nice":false,"zero":false},"axis":{"orient":"right","values":[-1,-2,-3,-4],"labels":false,"title":null}},"y2":{"field":"hi"}}},
{"data":{"name":"eb"},"transform":[{"filter":"datum.p==11"}],"mark":{"type":"tick","orient":"horizontal","size":6,"thickness":1.1,"color":"black","clip":true},"encoding":{"x":{"field":"x","type":"quantitative","scale":{"domain":[7.8,12.2],"nice":false,"zero":false},"axis":null},"y":{"field":"lo","type":"quantitative","scale":{"domain":[-5,-0.5],"nice":false,"zero":false},"axis":null}}},
{"data":{"name":"eb"},"transform":[{"filter":"datum.p==11"}],"mark":{"type":"tick","orient":"horizontal","size":6,"thickness":1.1,"color":"black","clip":true},"encoding":{"x":{"field":"x","type":"quantitative","scale":{"domain":[7.8,12.2],"nice":false,"zero":false},"axis":null},"y":{"field":"hi","type":"quantitative","scale":{"domain":[-5,-0.5],"nice":false,"zero":false},"axis":null}}},
{"data":{"name":"lu"},"transform":[{"filter":"datum.p==11"}],"mark":{"type":"tick","orient":"horizontal","size":9,"thickness":1.1,"color":"black","clip":true},"encoding":{"x":{"field":"x","type":"quantitative","scale":{"domain":[7.8,12.2],"nice":false,"zero":false},"axis":null},"y":{"field":"y","type":"quantitative","scale":{"domain":[-5,-0.5],"nice":false,"zero":false},"axis":null}}},
{"data":{"name":"eb"},"transform":[{"filter":"datum.p==11"}],"mark":{"type":"circle","size":28,"stroke":"black","strokeWidth":0.6,"opacity":1,"clip":true},"encoding":{"x":{"field":"x","type":"quantitative","scale":{"domain":[7.8,12.2],"nice":false,"zero":false},"axis":null},"y":{"field":"y","type":"quantitative","scale":{"domain":[-5,-0.5],"nice":false,"zero":false},"axis":null},"fill":{"field":"s","type":"nominal","scale":{"domain":["PG08","Drory05","L500","Lu2014"],"range":["#0000ff","#000000","#bfbf00","#00bfbf"]},"legend":null}}},
{"data":{"name":"lu"},"transform":[{"filter":"datum.p==11"}],"mark":{"type":"circle","size":18,"color":"#00bfbf","stroke":"black","strokeWidth":0.6,"opacity":1,"clip":true},"encoding":{"x":{"field":"x","type":"quantitative","scale":{"domain":[7.8,12.2],"nice":false,"zero":false},"axis":null},"y":{"field":"y","type":"quantitative","scale":{"domain":[-5,-0.5],"nice":false,"zero":false},"axis":null}}},
{"data":{"values":[{"t":"3.0 < z ≤ 3.5"}]},"mark":{"type":"text","align":"left","baseline":"middle","font":"DejaVu Serif","fontSize":14,"color":"#222222"},"encoding":{"x":{"datum":8.0,"type":"quantitative","scale":{"domain":[7.8,12.2],"nice":false,"zero":false},"axis":null},"y":{"datum":-4.36,"type":"quantitative","scale":{"domain":[-5,-0.5],"nice":false,"zero":false},"axis":null},"text":{"field":"t"}}},
{"data":{"values":[{"t":"3.0 < z ≤ 4.0"}]},"mark":{"type":"text","align":"left","baseline":"middle","font":"DejaVu Serif","fontSize":14,"color":"#bfbf00"},"encoding":{"x":{"datum":9.3,"type":"quantitative","scale":{"domain":[7.8,12.2],"nice":false,"zero":false},"axis":null},"y":{"datum":-1.07,"type":"quantitative","scale":{"domain":[-5,-0.5],"nice":false,"zero":false},"axis":null},"text":{"field":"t"}}}
]},
{"width":178.5,"height":184,"resolve":{"axis":{"x":"independent","y":"independent"}},"layer":[
{"data":{"name":"pg"},"transform":[{"filter":"datum.p==12"}],"mark":{"type":"line","color":"#0000ff","strokeWidth":1.4,"clip":true,"interpolate":"monotone"},"encoding":{"x":{"field":"x","type":"quantitative","scale":{"domain":[7.8,12.2],"nice":false,"zero":false},"axis":{"orient":"bottom","values":[8,9,10,11,12],"title":"log[M∗/(h⁻²M⊙)]","titleFontSize":16,"titlePadding":6}},"y":{"field":"y","type":"quantitative","scale":{"domain":[-5,-0.5],"nice":false,"zero":false},"axis":{"orient":"left","values":[-1,-2,-3,-4],"labels":false,"title":null}}}},
{"data":{"name":"eb"},"transform":[{"filter":"datum.p==12"}],"mark":{"type":"rule","color":"black","strokeWidth":1.1,"clip":true},"encoding":{"x":{"field":"x","type":"quantitative","scale":{"domain":[7.8,12.2],"nice":false,"zero":false},"axis":{"orient":"top","values":[8,9,10,11,12],"labels":false,"title":null}},"y":{"field":"lo","type":"quantitative","scale":{"domain":[-5,-0.5],"nice":false,"zero":false},"axis":{"orient":"right","values":[-1,-2,-3,-4],"labels":false,"title":null}},"y2":{"field":"hi"}}},
{"data":{"name":"eb"},"transform":[{"filter":"datum.p==12"}],"mark":{"type":"tick","orient":"horizontal","size":6,"thickness":1.1,"color":"black","clip":true},"encoding":{"x":{"field":"x","type":"quantitative","scale":{"domain":[7.8,12.2],"nice":false,"zero":false},"axis":null},"y":{"field":"lo","type":"quantitative","scale":{"domain":[-5,-0.5],"nice":false,"zero":false},"axis":null}}},
{"data":{"name":"eb"},"transform":[{"filter":"datum.p==12"}],"mark":{"type":"tick","orient":"horizontal","size":6,"thickness":1.1,"color":"black","clip":true},"encoding":{"x":{"field":"x","type":"quantitative","scale":{"domain":[7.8,12.2],"nice":false,"zero":false},"axis":null},"y":{"field":"hi","type":"quantitative","scale":{"domain":[-5,-0.5],"nice":false,"zero":false},"axis":null}}},
{"data":{"name":"lu"},"transform":[{"filter":"datum.p==12"}],"mark":{"type":"tick","orient":"horizontal","size":9,"thickness":1.1,"color":"black","clip":true},"encoding":{"x":{"field":"x","type":"quantitative","scale":{"domain":[7.8,12.2],"nice":false,"zero":false},"axis":null},"y":{"field":"y","type":"quantitative","scale":{"domain":[-5,-0.5],"nice":false,"zero":false},"axis":null}}},
{"data":{"name":"eb"},"transform":[{"filter":"datum.p==12"}],"mark":{"type":"circle","size":28,"stroke":"black","strokeWidth":0.6,"opacity":1,"clip":true},"encoding":{"x":{"field":"x","type":"quantitative","scale":{"domain":[7.8,12.2],"nice":false,"zero":false},"axis":null},"y":{"field":"y","type":"quantitative","scale":{"domain":[-5,-0.5],"nice":false,"zero":false},"axis":null},"fill":{"field":"s","type":"nominal","scale":{"domain":["PG08","Drory05","L500","Lu2014"],"range":["#0000ff","#000000","#bfbf00","#00bfbf"]},"legend":null}}},
{"data":{"name":"lu"},"transform":[{"filter":"datum.p==12"}],"mark":{"type":"circle","size":18,"color":"#00bfbf","stroke":"black","strokeWidth":0.6,"opacity":1,"clip":true},"encoding":{"x":{"field":"x","type":"quantitative","scale":{"domain":[7.8,12.2],"nice":false,"zero":false},"axis":null},"y":{"field":"y","type":"quantitative","scale":{"domain":[-5,-0.5],"nice":false,"zero":false},"axis":null}}},
{"data":{"values":[{"t":"3.5 < z ≤ 4.0"}]},"mark":{"type":"text","align":"left","baseline":"middle","font":"DejaVu Serif","fontSize":14,"color":"#222222"},"encoding":{"x":{"datum":8.0,"type":"quantitative","scale":{"domain":[7.8,12.2],"nice":false,"zero":false},"axis":null},"y":{"datum":-4.36,"type":"quantitative","scale":{"domain":[-5,-0.5],"nice":false,"zero":false},"axis":null},"text":{"field":"t"}}},
{"data":{"values":[{"t":"4.0 < z ≤ 5.0"}]},"mark":{"type":"text","align":"left","baseline":"middle","font":"DejaVu Serif","fontSize":14,"color":"#bfbf00"},"encoding":{"x":{"datum":9.3,"type":"quantitative","scale":{"domain":[7.8,12.2],"nice":false,"zero":false},"axis":null},"y":{"datum":-1.07,"type":"quantitative","scale":{"domain":[-5,-0.5],"nice":false,"zero":false},"axis":null},"text":{"field":"t"}}}
]}
]
}
